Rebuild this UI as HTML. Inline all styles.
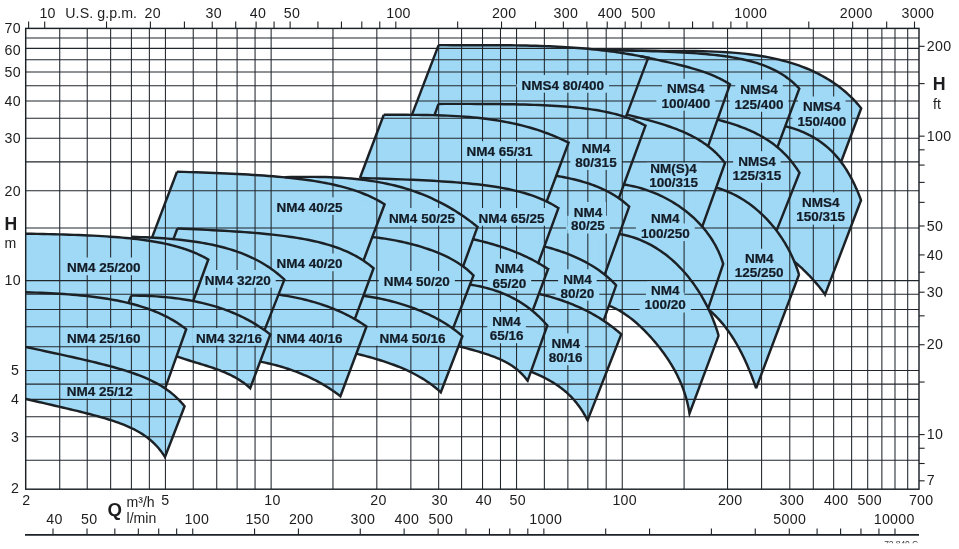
<!DOCTYPE html><html><head><meta charset="utf-8"><title>NM4 coverage chart</title>
<style>html,body{margin:0;padding:0;background:#fff}svg{display:block;will-change:transform}text{font-family:"Liberation Sans",sans-serif}</style></head><body>
<svg width="959" height="549" viewBox="0 0 959 549">
<rect width="959" height="549" fill="#fff"/>
<g fill="#9fd9f6" stroke="#9fd9f6" stroke-width="0.6" stroke-linejoin="round">
<path d="M25.80,233.70 L31.57,233.80 L37.24,233.90 L42.80,234.01 L48.27,234.13 L53.64,234.25 L58.90,234.39 L64.07,234.53 L69.14,234.69 L74.11,234.85 L78.98,235.03 L83.75,235.22 L88.43,235.43 L93.01,235.65 L97.49,235.88 L101.87,236.13 L106.16,236.39 L110.35,236.67 L114.45,236.97 L118.45,237.28 L122.35,237.62 L126.17,237.97 L129.88,238.33 L133.51,238.72 L137.04,239.13 L140.47,239.55 L143.82,240.00 L147.07,240.46 L150.23,240.94 L153.30,241.44 L156.28,241.95 L159.17,242.48 L161.97,243.03 L164.68,243.59 L167.30,244.17 L169.84,244.76 L172.28,245.36 L174.64,245.97 L176.91,246.59 L179.09,247.22 L181.19,247.85 L183.21,248.49 L185.14,249.12 L186.98,249.76 L188.74,250.39 L190.42,251.02 L192.02,251.64 L193.54,252.25 L194.97,252.85 L196.33,253.43 L197.61,254.00 L198.81,254.55 L199.93,255.08 L200.97,255.58 L201.94,256.06 L202.84,256.51 L203.66,256.94 L204.41,257.33 L205.09,257.69 L205.70,258.02 L206.23,258.32 L206.71,258.59 L207.11,258.82 L207.45,259.01 L207.73,259.17 L207.95,259.30 L208.12,259.39 L208.22,259.46 L208.28,259.49 L208.30,259.50 L192.65,302.53 L186.00,320.00 L26.00,320.00Z"/>
<path d="M25.80,292.30 L30.87,292.45 L35.85,292.62 L40.74,292.80 L45.55,293.01 L50.26,293.23 L54.89,293.48 L59.44,293.75 L63.89,294.04 L68.26,294.35 L72.54,294.69 L76.73,295.04 L80.84,295.43 L84.87,295.83 L88.81,296.26 L92.66,296.72 L96.43,297.19 L100.11,297.70 L103.71,298.22 L107.23,298.78 L110.66,299.35 L114.01,299.95 L117.28,300.57 L120.46,301.22 L123.57,301.88 L126.59,302.57 L129.53,303.28 L132.39,304.01 L135.17,304.76 L137.86,305.53 L140.48,306.31 L143.02,307.11 L145.48,307.92 L147.86,308.74 L150.17,309.57 L152.39,310.41 L154.54,311.26 L156.62,312.11 L158.61,312.97 L160.53,313.82 L162.38,314.68 L164.15,315.52 L165.84,316.37 L167.46,317.20 L169.01,318.02 L170.49,318.83 L171.89,319.62 L173.23,320.40 L174.49,321.15 L175.68,321.88 L176.80,322.58 L177.86,323.26 L178.84,323.91 L179.76,324.52 L180.61,325.11 L181.40,325.65 L182.12,326.16 L182.78,326.63 L183.38,327.07 L183.91,327.46 L184.38,327.81 L184.80,328.13 L185.16,328.40 L185.46,328.63 L185.70,328.81 L185.90,328.96 L186.04,329.07 L186.13,329.15 L186.19,329.19 L186.20,329.20 L164.58,389.93 L26.00,388.00Z"/>
<path d="M25.80,347.00 L30.82,348.07 L35.75,349.12 L40.59,350.16 L45.35,351.18 L50.02,352.19 L54.60,353.18 L59.10,354.16 L63.51,355.13 L67.83,356.09 L72.07,357.03 L76.23,357.97 L80.29,358.90 L84.28,359.82 L88.18,360.74 L91.99,361.64 L95.72,362.55 L99.37,363.45 L102.93,364.35 L106.42,365.25 L109.82,366.15 L113.13,367.05 L116.37,367.95 L119.52,368.86 L122.59,369.78 L125.58,370.70 L128.49,371.63 L131.32,372.57 L134.07,373.52 L136.75,374.48 L139.34,375.45 L141.85,376.43 L144.29,377.43 L146.65,378.44 L148.93,379.46 L151.13,380.49 L153.26,381.54 L155.31,382.59 L157.29,383.66 L159.19,384.73 L161.01,385.81 L162.77,386.89 L164.45,387.98 L166.05,389.06 L167.58,390.14 L169.05,391.22 L170.44,392.29 L171.76,393.34 L173.01,394.38 L174.19,395.39 L175.30,396.39 L176.34,397.35 L177.32,398.28 L178.23,399.18 L179.07,400.03 L179.85,400.84 L180.56,401.61 L181.21,402.32 L181.80,402.98 L182.33,403.58 L182.80,404.13 L183.21,404.61 L183.57,405.03 L183.86,405.39 L184.11,405.69 L184.30,405.93 L184.44,406.10 L184.53,406.22 L184.59,406.28 L184.60,406.30 L165.00,457.00 L164.99,456.98 L164.94,456.91 L164.86,456.78 L164.74,456.59 L164.57,456.33 L164.35,456.00 L164.09,455.60 L163.78,455.14 L163.42,454.61 L163.01,454.02 L162.55,453.36 L162.03,452.64 L161.46,451.87 L160.83,451.05 L160.15,450.17 L159.41,449.26 L158.62,448.30 L157.76,447.31 L156.84,446.29 L155.87,445.24 L154.84,444.18 L153.74,443.10 L152.58,442.01 L151.37,440.91 L150.08,439.80 L148.74,438.70 L147.33,437.60 L145.86,436.51 L144.32,435.43 L142.72,434.35 L141.06,433.29 L139.33,432.25 L137.53,431.22 L135.66,430.21 L133.73,429.21 L131.73,428.23 L129.66,427.27 L127.53,426.32 L125.33,425.39 L123.05,424.48 L120.71,423.58 L118.30,422.69 L115.82,421.82 L113.27,420.96 L110.65,420.11 L107.95,419.26 L105.19,418.42 L102.35,417.59 L99.45,416.76 L96.47,415.93 L93.41,415.11 L90.29,414.28 L87.09,413.45 L83.82,412.62 L80.48,411.78 L77.06,410.93 L73.57,410.08 L70.00,409.22 L66.36,408.36 L62.65,407.48 L58.86,406.59 L54.99,405.69 L51.05,404.77 L47.03,403.85 L42.94,402.91 L38.77,401.95 L34.52,400.98 L30.20,400.00 L25.80,399.00Z"/>
<path d="M131.50,236.80 L136.33,236.94 L141.08,237.10 L145.74,237.28 L150.32,237.49 L154.82,237.73 L159.23,238.00 L163.56,238.30 L167.81,238.62 L171.97,238.97 L176.05,239.35 L180.05,239.76 L183.97,240.20 L187.81,240.67 L191.56,241.17 L195.23,241.70 L198.83,242.26 L202.34,242.85 L205.77,243.47 L209.12,244.12 L212.39,244.79 L215.59,245.50 L218.70,246.23 L221.74,246.99 L224.70,247.78 L227.58,248.59 L230.38,249.42 L233.10,250.28 L235.75,251.15 L238.32,252.05 L240.82,252.97 L243.24,253.91 L245.59,254.85 L247.86,255.82 L250.05,256.79 L252.17,257.77 L254.22,258.77 L256.20,259.76 L258.10,260.76 L259.93,261.75 L261.69,262.75 L263.38,263.74 L264.99,264.72 L266.54,265.69 L268.02,266.64 L269.42,267.58 L270.76,268.50 L272.03,269.40 L273.24,270.28 L274.37,271.12 L275.44,271.94 L276.45,272.72 L277.39,273.47 L278.26,274.19 L279.07,274.86 L279.82,275.49 L280.51,276.08 L281.14,276.63 L281.71,277.13 L282.22,277.59 L282.67,278.00 L283.06,278.36 L283.40,278.67 L283.69,278.93 L283.93,279.15 L284.11,279.33 L284.25,279.45 L284.34,279.54 L284.39,279.59 L284.40,279.60 L263.93,331.65 L131.50,331.00Z"/>
<path d="M131.25,295.60 L135.64,295.62 L139.96,295.69 L144.20,295.80 L148.37,295.96 L152.46,296.15 L156.47,296.39 L160.41,296.67 L164.27,296.99 L168.06,297.35 L171.77,297.75 L175.40,298.19 L178.97,298.66 L182.46,299.17 L185.87,299.71 L189.21,300.28 L192.48,300.88 L195.67,301.52 L198.79,302.18 L201.84,302.88 L204.82,303.59 L207.72,304.33 L210.55,305.10 L213.31,305.89 L216.00,306.69 L218.62,307.52 L221.17,308.36 L223.65,309.21 L226.06,310.08 L228.40,310.96 L230.67,311.85 L232.87,312.75 L235.00,313.65 L237.07,314.55 L239.06,315.46 L240.99,316.37 L242.86,317.27 L244.65,318.17 L246.38,319.06 L248.05,319.94 L249.65,320.81 L251.18,321.67 L252.65,322.52 L254.06,323.34 L255.40,324.15 L256.68,324.94 L257.90,325.71 L259.05,326.45 L260.15,327.17 L261.18,327.86 L262.15,328.52 L263.07,329.15 L263.92,329.74 L264.72,330.31 L265.46,330.84 L266.14,331.34 L266.77,331.80 L267.34,332.22 L267.85,332.61 L268.32,332.96 L268.73,333.28 L269.09,333.55 L269.39,333.79 L269.65,333.99 L269.87,334.16 L270.04,334.29 L270.16,334.39 L270.24,334.45 L270.29,334.49 L270.30,334.50 L250.20,388.20 L250.19,388.19 L250.17,388.17 L250.13,388.13 L250.06,388.07 L249.97,387.99 L249.86,387.89 L249.72,387.76 L249.56,387.61 L249.37,387.44 L249.15,387.25 L248.90,387.03 L248.63,386.79 L248.33,386.53 L248.00,386.25 L247.64,385.95 L247.24,385.62 L246.82,385.28 L246.37,384.91 L245.89,384.53 L245.37,384.13 L244.82,383.71 L244.24,383.28 L243.63,382.83 L242.99,382.36 L242.31,381.89 L241.60,381.40 L240.85,380.90 L240.07,380.39 L239.26,379.87 L238.41,379.35 L237.53,378.81 L236.62,378.27 L235.67,377.73 L234.68,377.18 L233.66,376.62 L232.60,376.06 L231.51,375.51 L230.38,374.94 L229.21,374.38 L228.01,373.82 L226.77,373.26 L225.49,372.70 L224.18,372.14 L222.83,371.58 L221.44,371.02 L220.02,370.46 L218.56,369.90 L217.06,369.35 L215.52,368.79 L213.94,368.24 L212.33,367.68 L210.67,367.13 L208.98,366.58 L207.25,366.02 L205.48,365.46 L203.67,364.90 L201.83,364.33 L199.94,363.75 L198.01,363.17 L196.05,362.57 L194.04,361.97 L192.00,361.35 L189.91,360.71 L187.79,360.04 L185.62,359.36 L183.42,358.65 L181.17,357.90 L178.88,357.11 L176.55,356.30Z"/>
<path d="M177.00,171.70 L183.56,171.90 L190.01,172.10 L196.34,172.31 L202.56,172.52 L208.66,172.75 L214.65,172.98 L220.53,173.22 L226.30,173.47 L231.95,173.73 L237.49,174.01 L242.92,174.29 L248.24,174.59 L253.45,174.91 L258.55,175.24 L263.53,175.58 L268.41,175.94 L273.18,176.32 L277.84,176.71 L282.39,177.13 L286.83,177.56 L291.17,178.01 L295.40,178.48 L299.52,178.97 L303.54,179.48 L307.45,180.02 L311.25,180.57 L314.95,181.14 L318.55,181.74 L322.04,182.35 L325.43,182.99 L328.72,183.64 L331.90,184.31 L334.98,184.99 L337.97,185.70 L340.85,186.41 L343.63,187.14 L346.31,187.88 L348.89,188.64 L351.38,189.40 L353.77,190.16 L356.06,190.93 L358.25,191.70 L360.35,192.47 L362.36,193.24 L364.27,194.00 L366.08,194.75 L367.81,195.49 L369.44,196.21 L370.98,196.92 L372.44,197.61 L373.80,198.27 L375.08,198.91 L376.27,199.53 L377.37,200.11 L378.39,200.66 L379.32,201.18 L380.17,201.66 L380.95,202.10 L381.64,202.50 L382.25,202.86 L382.79,203.18 L383.25,203.46 L383.64,203.70 L383.96,203.90 L384.21,204.05 L384.39,204.17 L384.51,204.25 L384.58,204.29 L384.60,204.30 L362.90,262.13 L152.30,259.50 L152.00,237.58Z"/>
<path d="M177.40,228.50 L183.60,228.76 L189.69,229.03 L195.68,229.31 L201.56,229.59 L207.33,229.87 L212.99,230.16 L218.54,230.47 L223.99,230.78 L229.33,231.10 L234.57,231.43 L239.70,231.78 L244.73,232.13 L249.65,232.51 L254.47,232.89 L259.18,233.30 L263.79,233.72 L268.30,234.16 L272.70,234.62 L277.00,235.10 L281.20,235.61 L285.30,236.13 L289.30,236.68 L293.19,237.25 L296.99,237.84 L300.68,238.46 L304.28,239.11 L307.78,239.78 L311.18,240.47 L314.48,241.19 L317.68,241.93 L320.79,242.70 L323.79,243.49 L326.71,244.31 L329.53,245.14 L332.25,246.00 L334.88,246.87 L337.41,247.77 L339.85,248.67 L342.20,249.59 L344.46,250.52 L346.62,251.46 L348.70,252.40 L350.68,253.35 L352.58,254.29 L354.38,255.23 L356.10,256.16 L357.73,257.09 L359.27,257.99 L360.73,258.88 L362.11,259.74 L363.39,260.58 L364.60,261.39 L365.72,262.17 L366.77,262.91 L367.73,263.62 L368.61,264.27 L369.42,264.89 L370.15,265.46 L370.80,265.98 L371.38,266.44 L371.89,266.86 L372.32,267.22 L372.69,267.53 L372.99,267.78 L373.23,267.98 L373.40,268.13 L373.52,268.23 L373.58,268.28 L373.60,268.30 L354.22,320.60 L173.80,317.50 L173.42,239.10Z"/>
<path d="M278.50,294.61 L281.28,295.02 L284.01,295.44 L286.69,295.89 L289.33,296.35 L291.92,296.83 L294.46,297.33 L296.95,297.84 L299.39,298.37 L301.79,298.91 L304.14,299.46 L306.44,300.03 L308.70,300.62 L310.90,301.21 L313.06,301.81 L315.18,302.43 L317.25,303.05 L319.27,303.68 L321.24,304.32 L323.17,304.97 L325.06,305.62 L326.89,306.27 L328.69,306.93 L330.43,307.59 L332.14,308.26 L333.79,308.92 L335.41,309.59 L336.98,310.25 L338.50,310.91 L339.98,311.57 L341.42,312.22 L342.81,312.87 L344.16,313.51 L345.47,314.15 L346.73,314.78 L347.95,315.40 L349.13,316.01 L350.27,316.61 L351.36,317.19 L352.42,317.77 L353.43,318.33 L354.40,318.88 L355.33,319.42 L356.22,319.93 L357.07,320.43 L357.88,320.92 L358.65,321.39 L359.38,321.84 L360.07,322.27 L360.73,322.68 L361.34,323.07 L361.92,323.44 L362.46,323.79 L362.97,324.12 L363.43,324.42 L363.87,324.71 L364.26,324.97 L364.62,325.22 L364.95,325.44 L365.24,325.64 L365.50,325.81 L365.73,325.97 L365.93,326.10 L366.09,326.22 L366.23,326.31 L366.33,326.38 L366.41,326.44 L366.46,326.47 L366.49,326.49 L366.50,326.50 L340.40,396.20 L340.39,396.19 L340.37,396.17 L340.32,396.14 L340.25,396.08 L340.15,396.01 L340.03,395.91 L339.88,395.80 L339.70,395.66 L339.49,395.50 L339.25,395.32 L338.99,395.11 L338.69,394.89 L338.36,394.64 L338.00,394.37 L337.61,394.08 L337.18,393.76 L336.72,393.42 L336.23,393.06 L335.70,392.68 L335.14,392.28 L334.54,391.86 L333.91,391.41 L333.24,390.95 L332.54,390.47 L331.80,389.97 L331.03,389.45 L330.22,388.91 L329.37,388.36 L328.48,387.79 L327.56,387.20 L326.60,386.60 L325.60,385.99 L324.56,385.36 L323.49,384.73 L322.37,384.08 L321.22,383.42 L320.03,382.75 L318.80,382.07 L317.53,381.38 L316.22,380.69 L314.87,379.99 L313.48,379.29 L312.05,378.58 L310.58,377.87 L309.07,377.16 L307.51,376.44 L305.92,375.73 L304.28,375.01 L302.61,374.30 L300.89,373.59 L299.13,372.88 L297.33,372.18 L295.49,371.48 L293.60,370.79 L291.67,370.10 L289.70,369.42 L287.69,368.75 L285.64,368.09 L283.54,367.44 L281.39,366.79 L279.21,366.16 L276.98,365.55 L274.71,364.94 L272.39,364.35 L270.03,363.77 L267.63,363.21 L265.18,362.66 L262.69,362.12 L260.15,361.61 L258.00,360.00 L258.00,296.00Z"/>
<path d="M285.00,177.20 L291.08,177.06 L297.06,176.95 L302.93,176.88 L308.70,176.85 L314.36,176.88 L319.92,176.95 L325.37,177.07 L330.71,177.25 L335.95,177.48 L341.09,177.77 L346.13,178.11 L351.06,178.52 L355.89,178.97 L360.61,179.49 L365.24,180.06 L369.76,180.68 L374.18,181.36 L378.50,182.10 L382.72,182.88 L386.84,183.72 L390.86,184.61 L394.79,185.54 L398.61,186.52 L402.33,187.55 L405.96,188.61 L409.49,189.72 L412.92,190.86 L416.25,192.03 L419.49,193.24 L422.63,194.46 L425.68,195.71 L428.63,196.97 L431.49,198.24 L434.26,199.52 L436.93,200.81 L439.51,202.09 L441.99,203.38 L444.39,204.65 L446.69,205.92 L448.91,207.17 L451.03,208.41 L453.07,209.62 L455.01,210.81 L456.87,211.98 L458.64,213.12 L460.33,214.22 L461.93,215.29 L463.44,216.32 L464.88,217.32 L466.22,218.27 L467.49,219.18 L468.67,220.04 L469.77,220.86 L470.80,221.63 L471.74,222.34 L472.61,223.01 L473.40,223.62 L474.11,224.18 L474.75,224.69 L475.32,225.14 L475.82,225.54 L476.25,225.88 L476.61,226.17 L476.90,226.41 L477.13,226.60 L477.31,226.74 L477.42,226.84 L477.48,226.89 L477.50,226.90 L462.54,267.88 L300.00,266.00 L300.00,200.00 L285.00,180.00Z"/>
<path d="M372.26,237.20 L375.46,237.38 L378.60,237.78 L381.69,238.20 L384.72,238.65 L387.70,239.11 L390.62,239.60 L393.49,240.11 L396.30,240.64 L399.05,241.19 L401.76,241.76 L404.41,242.35 L407.00,242.95 L409.54,243.57 L412.02,244.20 L414.46,244.85 L416.84,245.52 L419.16,246.19 L421.43,246.88 L423.65,247.58 L425.82,248.29 L427.93,249.01 L430.00,249.73 L432.01,250.47 L433.97,251.21 L435.87,251.95 L437.73,252.70 L439.53,253.45 L441.29,254.20 L442.99,254.95 L444.64,255.70 L446.25,256.46 L447.80,257.22 L449.30,257.97 L450.76,258.73 L452.16,259.48 L453.52,260.24 L454.83,260.99 L456.09,261.74 L457.30,262.48 L458.46,263.21 L459.58,263.94 L460.65,264.66 L461.67,265.37 L462.65,266.06 L463.58,266.75 L464.47,267.42 L465.31,268.07 L466.11,268.70 L466.86,269.31 L467.57,269.91 L468.23,270.48 L468.86,271.02 L469.44,271.54 L469.97,272.03 L470.47,272.49 L470.93,272.92 L471.34,273.32 L471.72,273.69 L472.05,274.02 L472.35,274.32 L472.62,274.58 L472.84,274.81 L473.03,275.01 L473.19,275.17 L473.31,275.30 L473.40,275.39 L473.46,275.45 L473.49,275.49 L473.50,275.50 L452.37,330.07 L355.00,326.25 L355.00,240.00Z"/>
<path d="M363.41,295.80 L366.54,296.19 L369.61,296.68 L372.63,297.19 L375.60,297.74 L378.51,298.30 L381.37,298.90 L384.17,299.51 L386.92,300.15 L389.61,300.80 L392.26,301.48 L394.84,302.17 L397.38,302.88 L399.86,303.60 L402.29,304.34 L404.67,305.09 L407.00,305.85 L409.27,306.63 L411.49,307.41 L413.66,308.21 L415.78,309.01 L417.85,309.81 L419.87,310.63 L421.83,311.44 L423.75,312.26 L425.61,313.08 L427.43,313.90 L429.19,314.73 L430.90,315.55 L432.57,316.36 L434.19,317.18 L435.75,317.99 L437.27,318.80 L438.74,319.60 L440.16,320.40 L441.54,321.19 L442.86,321.96 L444.14,322.73 L445.37,323.49 L446.56,324.24 L447.70,324.98 L448.79,325.69 L449.84,326.40 L450.84,327.09 L451.79,327.76 L452.70,328.41 L453.57,329.04 L454.39,329.65 L455.17,330.23 L455.91,330.80 L456.60,331.34 L457.25,331.85 L457.86,332.34 L458.43,332.80 L458.95,333.23 L459.44,333.63 L459.88,334.01 L460.29,334.35 L460.66,334.67 L460.99,334.95 L461.28,335.21 L461.54,335.43 L461.76,335.62 L461.94,335.79 L462.09,335.92 L462.21,336.03 L462.30,336.11 L462.36,336.16 L462.39,336.19 L462.40,336.20 L440.80,392.30 L440.79,392.29 L440.77,392.27 L440.71,392.22 L440.64,392.15 L440.54,392.06 L440.41,391.94 L440.25,391.80 L440.06,391.63 L439.84,391.43 L439.59,391.21 L439.31,390.96 L439.00,390.68 L438.65,390.38 L438.27,390.05 L437.86,389.69 L437.41,389.31 L436.93,388.90 L436.41,388.47 L435.85,388.01 L435.26,387.53 L434.63,387.03 L433.97,386.50 L433.27,385.96 L432.53,385.39 L431.75,384.81 L430.93,384.21 L430.08,383.59 L429.19,382.95 L428.25,382.30 L427.28,381.64 L426.27,380.96 L425.22,380.28 L424.13,379.58 L423.00,378.87 L421.82,378.15 L420.61,377.43 L419.36,376.70 L418.06,375.96 L416.72,375.22 L415.35,374.47 L413.92,373.72 L412.46,372.97 L410.96,372.22 L409.41,371.47 L407.82,370.72 L406.18,369.96 L404.50,369.21 L402.78,368.47 L401.02,367.72 L399.21,366.98 L397.36,366.24 L395.46,365.50 L393.52,364.77 L391.54,364.04 L389.51,363.31 L387.44,362.59 L385.32,361.88 L383.15,361.17 L380.94,360.46 L378.69,359.76 L376.39,359.07 L374.04,358.37 L371.65,357.69 L369.21,357.01 L366.73,356.33 L364.20,355.66 L361.62,354.99 L359.00,354.32 L356.33,353.66 L345.00,353.00 L345.00,300.00Z"/>
<path d="M383.80,114.80 L389.64,114.80 L395.38,114.80 L401.02,114.81 L406.55,114.82 L411.99,114.85 L417.32,114.89 L422.55,114.96 L427.68,115.04 L432.72,115.15 L437.65,115.29 L442.48,115.45 L447.22,115.64 L451.85,115.86 L456.39,116.12 L460.83,116.40 L465.17,116.71 L469.42,117.06 L473.56,117.44 L477.62,117.84 L481.57,118.28 L485.43,118.74 L489.19,119.24 L492.86,119.76 L496.44,120.30 L499.92,120.87 L503.31,121.47 L506.60,122.08 L509.80,122.71 L512.91,123.36 L515.93,124.03 L518.85,124.71 L521.69,125.40 L524.43,126.11 L527.09,126.82 L529.65,127.53 L532.13,128.25 L534.51,128.98 L536.81,129.70 L539.03,130.42 L541.15,131.13 L543.19,131.84 L545.15,132.54 L547.01,133.23 L548.80,133.90 L550.50,134.56 L552.12,135.20 L553.65,135.83 L555.11,136.44 L556.48,137.02 L557.77,137.58 L558.99,138.12 L560.12,138.62 L561.18,139.11 L562.16,139.56 L563.07,139.99 L563.90,140.38 L564.66,140.75 L565.35,141.08 L565.96,141.38 L566.51,141.65 L566.99,141.89 L567.40,142.09 L567.74,142.27 L568.03,142.41 L568.25,142.52 L568.41,142.61 L568.52,142.66 L568.58,142.69 L568.60,142.70 L546.07,202.98 L360.00,200.60 L359.93,178.00Z"/>
<path d="M360.00,178.00 L366.27,178.18 L372.43,178.37 L378.48,178.56 L384.43,178.76 L390.26,178.96 L395.99,179.17 L401.60,179.38 L407.11,179.60 L412.52,179.83 L417.81,180.07 L423.00,180.31 L428.08,180.57 L433.06,180.84 L437.93,181.12 L442.70,181.42 L447.36,181.72 L451.92,182.05 L456.37,182.39 L460.72,182.74 L464.97,183.11 L469.11,183.50 L473.15,183.91 L477.09,184.34 L480.93,184.79 L484.67,185.25 L488.30,185.74 L491.84,186.24 L495.28,186.77 L498.61,187.31 L501.85,187.88 L504.99,188.47 L508.04,189.07 L510.98,189.69 L513.83,190.33 L516.59,190.99 L519.24,191.66 L521.81,192.34 L524.28,193.04 L526.65,193.74 L528.93,194.46 L531.12,195.18 L533.22,195.90 L535.23,196.63 L537.14,197.36 L538.97,198.08 L540.70,198.80 L542.35,199.50 L543.91,200.20 L545.39,200.88 L546.78,201.55 L548.08,202.19 L549.30,202.81 L550.44,203.41 L551.49,203.98 L552.46,204.52 L553.36,205.02 L554.17,205.49 L554.91,205.93 L555.57,206.32 L556.15,206.68 L556.67,207.00 L557.11,207.27 L557.48,207.51 L557.78,207.70 L558.02,207.86 L558.20,207.97 L558.32,208.05 L558.38,208.09 L558.40,208.10 L537.72,264.53 L370.00,262.00 L370.00,195.00Z"/>
<path d="M473.00,239.23 L475.37,239.77 L477.70,240.31 L479.99,240.86 L482.23,241.41 L484.44,241.98 L486.60,242.55 L488.73,243.12 L490.81,243.70 L492.85,244.29 L494.85,244.88 L496.82,245.47 L498.74,246.07 L500.62,246.67 L502.46,247.27 L504.26,247.88 L506.02,248.49 L507.75,249.10 L509.43,249.71 L511.07,250.33 L512.68,250.94 L514.25,251.55 L515.77,252.16 L517.26,252.77 L518.71,253.38 L520.13,253.98 L521.50,254.58 L522.84,255.17 L524.14,255.76 L525.40,256.35 L526.62,256.93 L527.81,257.50 L528.96,258.06 L530.07,258.62 L531.15,259.17 L532.19,259.70 L533.20,260.23 L534.17,260.75 L535.10,261.25 L536.00,261.75 L536.86,262.23 L537.69,262.70 L538.48,263.15 L539.24,263.59 L539.96,264.02 L540.65,264.43 L541.31,264.82 L541.93,265.20 L542.52,265.56 L543.08,265.91 L543.61,266.23 L544.10,266.55 L544.56,266.84 L544.99,267.11 L545.39,267.37 L545.76,267.61 L546.09,267.83 L546.40,268.03 L546.68,268.22 L546.93,268.38 L547.15,268.53 L547.34,268.66 L547.51,268.77 L547.65,268.87 L547.77,268.94 L547.86,269.00 L547.92,269.05 L547.97,269.08 L547.99,269.10 L548.00,269.10 L531.96,312.47 L455.00,311.00 L455.00,262.00Z"/>
<path d="M469.97,284.60 L472.42,284.99 L474.82,285.40 L477.18,285.85 L479.49,286.32 L481.77,286.82 L484.00,287.34 L486.19,287.89 L488.34,288.47 L490.44,289.07 L492.51,289.69 L494.53,290.34 L496.51,291.01 L498.45,291.70 L500.35,292.40 L502.21,293.13 L504.02,293.87 L505.80,294.64 L507.53,295.41 L509.23,296.20 L510.88,297.01 L512.50,297.82 L514.07,298.65 L515.61,299.48 L517.11,300.33 L518.56,301.18 L519.98,302.03 L521.36,302.89 L522.70,303.75 L524.00,304.62 L525.26,305.48 L526.48,306.34 L527.67,307.20 L528.82,308.06 L529.93,308.90 L531.00,309.75 L532.04,310.58 L533.04,311.40 L534.00,312.21 L534.93,313.00 L535.81,313.78 L536.67,314.55 L537.49,315.30 L538.27,316.02 L539.01,316.73 L539.73,317.42 L540.40,318.08 L541.05,318.72 L541.65,319.34 L542.23,319.93 L542.77,320.49 L543.28,321.03 L543.75,321.53 L544.20,322.01 L544.61,322.46 L544.99,322.87 L545.33,323.26 L545.65,323.61 L545.94,323.94 L546.20,324.23 L546.42,324.49 L546.62,324.72 L546.80,324.92 L546.94,325.08 L547.06,325.22 L547.15,325.33 L547.22,325.41 L547.27,325.46 L547.29,325.49 L547.30,325.50 L527.60,380.80 L527.59,380.79 L527.57,380.76 L527.53,380.70 L527.47,380.62 L527.39,380.50 L527.28,380.36 L527.15,380.18 L527.00,379.98 L526.82,379.74 L526.61,379.47 L526.38,379.17 L526.13,378.84 L525.84,378.48 L525.53,378.09 L525.20,377.67 L524.83,377.23 L524.43,376.76 L524.01,376.27 L523.56,375.75 L523.07,375.22 L522.56,374.66 L522.02,374.09 L521.44,373.51 L520.84,372.91 L520.20,372.29 L519.54,371.67 L518.84,371.04 L518.11,370.40 L517.35,369.75 L516.55,369.10 L515.72,368.45 L514.87,367.80 L513.97,367.14 L513.05,366.49 L512.09,365.84 L511.10,365.19 L510.07,364.54 L509.01,363.90 L507.92,363.26 L506.79,362.63 L505.63,362.01 L504.44,361.39 L503.21,360.77 L501.94,360.17 L500.64,359.57 L499.31,358.97 L497.93,358.38 L496.53,357.80 L495.09,357.22 L493.61,356.65 L492.09,356.09 L490.54,355.53 L488.96,354.97 L487.34,354.41 L485.68,353.86 L483.98,353.32 L482.25,352.77 L480.48,352.23 L478.68,351.68 L476.83,351.14 L474.95,350.60 L473.04,350.05 L471.08,349.51 L469.09,348.96 L467.06,348.41 L464.99,347.86 L462.88,347.30 L460.74,346.74 L458.56,346.18 L450.00,346.00 L450.00,290.00Z"/>
<path d="M438.50,103.90 L445.04,103.89 L451.47,103.88 L457.78,103.88 L463.99,103.88 L470.07,103.89 L476.05,103.92 L481.91,103.95 L487.66,103.98 L493.29,104.03 L498.82,104.09 L504.23,104.16 L509.54,104.25 L514.73,104.34 L519.81,104.46 L524.78,104.58 L529.65,104.72 L534.40,104.88 L539.05,105.05 L543.59,105.25 L548.02,105.46 L552.34,105.69 L556.56,105.94 L560.67,106.21 L564.67,106.50 L568.57,106.81 L572.36,107.14 L576.05,107.50 L579.64,107.87 L583.12,108.27 L586.50,108.69 L589.78,109.13 L592.95,109.59 L596.03,110.07 L599.00,110.57 L601.87,111.09 L604.65,111.63 L607.32,112.18 L609.90,112.75 L612.37,113.33 L614.75,113.92 L617.04,114.52 L619.23,115.12 L621.32,115.74 L623.32,116.35 L625.22,116.96 L627.04,117.58 L628.76,118.18 L630.39,118.78 L631.92,119.37 L633.37,119.95 L634.73,120.51 L636.01,121.05 L637.19,121.57 L638.29,122.07 L639.31,122.54 L640.24,122.98 L641.09,123.40 L641.86,123.78 L642.55,124.13 L643.16,124.44 L643.69,124.72 L644.15,124.97 L644.54,125.18 L644.86,125.35 L645.11,125.48 L645.29,125.58 L645.41,125.65 L645.48,125.69 L645.50,125.70 L618.29,199.74 L435.00,198.75 L434.51,115.20Z"/>
<path d="M556.24,175.79 L558.54,176.19 L560.81,176.60 L563.03,177.02 L565.22,177.46 L567.36,177.90 L569.47,178.35 L571.54,178.82 L573.56,179.29 L575.55,179.78 L577.50,180.28 L579.40,180.78 L581.27,181.30 L583.10,181.82 L584.90,182.36 L586.65,182.90 L588.36,183.46 L590.04,184.02 L591.68,184.59 L593.28,185.17 L594.84,185.76 L596.36,186.35 L597.85,186.95 L599.30,187.55 L600.71,188.16 L602.08,188.78 L603.42,189.39 L604.72,190.01 L605.98,190.63 L607.21,191.26 L608.40,191.88 L609.56,192.50 L610.68,193.12 L611.76,193.74 L612.81,194.36 L613.82,194.97 L614.80,195.57 L615.74,196.17 L616.65,196.76 L617.52,197.34 L618.36,197.91 L619.17,198.47 L619.94,199.02 L620.68,199.55 L621.38,200.07 L622.05,200.58 L622.69,201.07 L623.30,201.54 L623.87,202.00 L624.41,202.44 L624.93,202.85 L625.40,203.25 L625.85,203.63 L626.27,203.98 L626.66,204.32 L627.02,204.63 L627.35,204.92 L627.64,205.18 L627.92,205.43 L628.16,205.64 L628.37,205.84 L628.56,206.01 L628.72,206.16 L628.86,206.29 L628.97,206.39 L629.06,206.47 L629.13,206.53 L629.17,206.57 L629.19,206.59 L629.20,206.60 L604.14,276.11 L540.00,273.75 L540.00,200.00Z"/>
<path d="M544.29,246.60 L546.56,247.10 L548.79,247.69 L550.98,248.30 L553.13,248.93 L555.24,249.56 L557.32,250.22 L559.35,250.88 L561.34,251.56 L563.30,252.25 L565.22,252.95 L567.09,253.66 L568.93,254.38 L570.73,255.11 L572.50,255.84 L574.22,256.59 L575.91,257.33 L577.56,258.09 L579.17,258.85 L580.75,259.61 L582.28,260.38 L583.78,261.15 L585.24,261.92 L586.67,262.69 L588.06,263.46 L589.41,264.23 L590.73,265.01 L592.01,265.77 L593.25,266.54 L594.46,267.30 L595.63,268.06 L596.77,268.81 L597.87,269.56 L598.94,270.30 L599.97,271.03 L600.97,271.75 L601.93,272.47 L602.86,273.17 L603.75,273.87 L604.61,274.55 L605.43,275.21 L606.23,275.87 L606.99,276.51 L607.71,277.13 L608.41,277.73 L609.07,278.32 L609.70,278.89 L610.29,279.44 L610.86,279.96 L611.39,280.47 L611.89,280.95 L612.36,281.41 L612.81,281.85 L613.22,282.26 L613.60,282.65 L613.95,283.01 L614.27,283.34 L614.57,283.65 L614.84,283.93 L615.08,284.19 L615.29,284.41 L615.47,284.61 L615.63,284.79 L615.77,284.93 L615.88,285.05 L615.96,285.15 L616.03,285.22 L616.07,285.27 L616.09,285.29 L616.10,285.30 L603.09,322.22 L530.00,318.75 L530.00,255.00Z"/>
<path d="M538.85,293.85 L541.45,294.47 L544.01,295.11 L546.53,295.77 L549.00,296.44 L551.42,297.13 L553.80,297.83 L556.14,298.55 L558.43,299.28 L560.67,300.02 L562.87,300.77 L565.03,301.54 L567.14,302.32 L569.21,303.10 L571.23,303.90 L573.21,304.70 L575.15,305.51 L577.05,306.32 L578.90,307.14 L580.70,307.97 L582.47,308.79 L584.19,309.62 L585.87,310.45 L587.51,311.28 L589.10,312.12 L590.66,312.94 L592.17,313.77 L593.64,314.59 L595.07,315.41 L596.45,316.22 L597.80,317.03 L599.10,317.83 L600.37,318.61 L601.59,319.39 L602.78,320.16 L603.92,320.91 L605.03,321.66 L606.09,322.39 L607.12,323.10 L608.10,323.80 L609.05,324.48 L609.96,325.14 L610.83,325.79 L611.67,326.41 L612.46,327.02 L613.22,327.60 L613.95,328.16 L614.63,328.71 L615.28,329.22 L615.89,329.72 L616.47,330.19 L617.01,330.63 L617.52,331.05 L617.99,331.45 L618.43,331.81 L618.83,332.16 L619.20,332.47 L619.54,332.76 L619.85,333.03 L620.12,333.27 L620.37,333.48 L620.58,333.66 L620.76,333.83 L620.92,333.96 L621.04,334.07 L621.14,334.16 L621.22,334.23 L621.27,334.27 L621.29,334.29 L621.30,334.30 L587.60,420.40 L587.59,420.39 L587.58,420.35 L587.54,420.29 L587.49,420.19 L587.42,420.05 L587.34,419.88 L587.23,419.67 L587.10,419.43 L586.96,419.14 L586.79,418.82 L586.60,418.46 L586.39,418.06 L586.16,417.63 L585.90,417.16 L585.62,416.65 L585.32,416.11 L585.00,415.53 L584.65,414.92 L584.28,414.28 L583.88,413.60 L583.46,412.90 L583.01,412.17 L582.54,411.42 L582.04,410.64 L581.52,409.84 L580.97,409.01 L580.40,408.17 L579.80,407.31 L579.18,406.43 L578.52,405.54 L577.84,404.64 L577.14,403.73 L576.41,402.80 L575.65,401.87 L574.86,400.94 L574.04,399.99 L573.20,399.05 L572.33,398.10 L571.43,397.15 L570.51,396.21 L569.55,395.26 L568.57,394.32 L567.56,393.38 L566.52,392.44 L565.45,391.51 L564.35,390.59 L563.23,389.67 L562.07,388.76 L560.89,387.86 L559.67,386.97 L558.43,386.08 L557.16,385.20 L555.86,384.34 L554.52,383.48 L553.16,382.63 L551.77,381.79 L550.34,380.95 L548.89,380.13 L547.41,379.32 L545.89,378.51 L544.35,377.71 L542.77,376.92 L541.17,376.14 L539.53,375.37 L537.86,374.60 L536.16,373.84 L534.43,373.09 L532.67,372.34 L530.88,371.59 L522.00,371.00 L522.00,300.00Z"/>
<path d="M438.60,45.10 L445.22,45.14 L451.73,45.16 L458.13,45.17 L464.41,45.18 L470.57,45.18 L476.62,45.18 L482.55,45.19 L488.37,45.20 L494.08,45.21 L499.68,45.24 L505.16,45.28 L510.53,45.33 L515.79,45.39 L520.93,45.47 L525.97,45.56 L530.89,45.67 L535.71,45.80 L540.41,45.94 L545.01,46.10 L549.49,46.28 L553.87,46.47 L558.14,46.68 L562.30,46.90 L566.36,47.14 L570.30,47.39 L574.15,47.66 L577.88,47.94 L581.51,48.23 L585.04,48.53 L588.46,48.84 L591.78,49.16 L594.99,49.49 L598.11,49.83 L601.12,50.17 L604.02,50.51 L606.83,50.86 L609.54,51.20 L612.15,51.55 L614.66,51.90 L617.07,52.25 L619.38,52.59 L621.60,52.93 L623.72,53.27 L625.74,53.59 L627.67,53.92 L629.51,54.23 L631.25,54.53 L632.90,54.83 L634.45,55.11 L635.92,55.39 L637.30,55.65 L638.59,55.89 L639.79,56.13 L640.90,56.35 L641.93,56.55 L642.87,56.74 L643.73,56.92 L644.51,57.07 L645.21,57.22 L645.83,57.34 L646.37,57.46 L646.83,57.55 L647.23,57.64 L647.55,57.70 L647.80,57.76 L647.99,57.80 L648.11,57.82 L648.18,57.84 L648.20,57.84 L625.27,118.66 L412.50,125.00 L411.91,114.85Z"/>
<path d="M640.00,56.17 L642.84,56.74 L645.64,57.31 L648.38,57.88 L651.08,58.45 L653.73,59.02 L656.32,59.59 L658.87,60.16 L661.37,60.72 L663.82,61.27 L666.23,61.81 L668.58,62.35 L670.88,62.88 L673.14,63.41 L675.35,63.93 L677.51,64.45 L679.63,64.97 L681.70,65.48 L683.72,66.00 L685.69,66.51 L687.62,67.03 L689.50,67.54 L691.33,68.06 L693.12,68.57 L694.86,69.09 L696.55,69.60 L698.20,70.12 L699.81,70.63 L701.36,71.15 L702.88,71.66 L704.35,72.17 L705.77,72.68 L707.15,73.19 L708.49,73.69 L709.78,74.19 L711.03,74.69 L712.24,75.18 L713.40,75.67 L714.52,76.15 L715.60,76.63 L716.63,77.09 L717.63,77.55 L718.58,78.00 L719.49,78.44 L720.36,78.87 L721.18,79.29 L721.97,79.69 L722.72,80.08 L723.43,80.46 L724.10,80.82 L724.73,81.17 L725.32,81.50 L725.87,81.81 L726.39,82.11 L726.87,82.39 L727.31,82.65 L727.71,82.89 L728.08,83.11 L728.42,83.31 L728.72,83.50 L728.98,83.66 L729.21,83.81 L729.41,83.93 L729.58,84.04 L729.72,84.12 L729.83,84.19 L729.91,84.24 L729.96,84.28 L729.99,84.29 L730.00,84.30 L707.57,147.69 L620.00,146.30 L620.00,60.00Z"/>
<path d="M626.80,114.60 L629.90,115.35 L632.95,116.10 L635.95,116.84 L638.89,117.59 L641.78,118.34 L644.61,119.08 L647.39,119.83 L650.12,120.59 L652.79,121.34 L655.41,122.10 L657.98,122.86 L660.50,123.63 L662.96,124.41 L665.37,125.19 L667.73,125.98 L670.04,126.78 L672.30,127.58 L674.50,128.39 L676.65,129.21 L678.75,130.04 L680.80,130.88 L682.81,131.73 L684.76,132.58 L686.65,133.45 L688.50,134.32 L690.30,135.20 L692.05,136.09 L693.76,136.99 L695.41,137.89 L697.01,138.80 L698.57,139.72 L700.07,140.64 L701.53,141.56 L702.94,142.49 L704.30,143.41 L705.62,144.34 L706.89,145.26 L708.11,146.18 L709.29,147.10 L710.41,148.01 L711.50,148.91 L712.54,149.79 L713.53,150.67 L714.48,151.53 L715.38,152.37 L716.24,153.19 L717.06,153.99 L717.83,154.77 L718.56,155.52 L719.25,156.25 L719.89,156.94 L720.50,157.61 L721.06,158.24 L721.58,158.83 L722.06,159.39 L722.50,159.91 L722.91,160.39 L723.27,160.83 L723.60,161.23 L723.89,161.59 L724.14,161.91 L724.36,162.18 L724.54,162.42 L724.69,162.61 L724.81,162.76 L724.90,162.87 L724.96,162.95 L724.99,162.99 L725.00,163.00 L701.72,228.17 L615.00,226.25 L615.00,125.00Z"/>
<path d="M623.89,184.50 L627.03,185.00 L630.11,185.58 L633.14,186.22 L636.12,186.92 L639.04,187.69 L641.90,188.51 L644.71,189.39 L647.47,190.31 L650.18,191.28 L652.83,192.30 L655.42,193.36 L657.97,194.46 L660.46,195.60 L662.90,196.77 L665.28,197.98 L667.62,199.22 L669.90,200.48 L672.13,201.78 L674.30,203.10 L676.43,204.45 L678.50,205.82 L680.53,207.22 L682.50,208.63 L684.42,210.06 L686.29,211.51 L688.11,212.98 L689.88,214.46 L691.60,215.95 L693.27,217.46 L694.89,218.98 L696.47,220.50 L697.99,222.04 L699.46,223.58 L700.89,225.12 L702.27,226.67 L703.60,228.22 L704.88,229.78 L706.12,231.33 L707.31,232.88 L708.45,234.42 L709.55,235.96 L710.60,237.49 L711.60,239.02 L712.56,240.53 L713.47,242.02 L714.34,243.50 L715.17,244.96 L715.95,246.40 L716.69,247.81 L717.38,249.19 L718.03,250.54 L718.64,251.85 L719.21,253.13 L719.74,254.36 L720.23,255.53 L720.68,256.66 L721.08,257.72 L721.45,258.71 L721.78,259.63 L722.08,260.48 L722.33,261.24 L722.55,261.91 L722.74,262.50 L722.89,262.98 L723.01,263.37 L723.10,263.66 L723.16,263.86 L723.19,263.97 L723.20,264.00 L707.65,309.91 L600.00,306.00 L600.00,200.00Z"/>
<path d="M619.29,234.10 L622.42,234.52 L625.51,235.20 L628.54,235.97 L631.51,236.82 L634.43,237.76 L637.30,238.77 L640.11,239.87 L642.87,241.03 L645.57,242.27 L648.22,243.58 L650.82,244.94 L653.37,246.37 L655.86,247.86 L658.30,249.41 L660.68,251.00 L663.02,252.65 L665.30,254.34 L667.53,256.08 L669.70,257.86 L671.83,259.68 L673.90,261.53 L675.93,263.42 L677.90,265.33 L679.82,267.28 L681.69,269.25 L683.51,271.24 L685.28,273.25 L687.00,275.29 L688.67,277.33 L690.29,279.39 L691.87,281.46 L693.39,283.53 L694.86,285.61 L696.29,287.69 L697.67,289.77 L699.00,291.85 L700.28,293.92 L701.52,295.97 L702.71,298.02 L703.85,300.05 L704.94,302.07 L705.99,304.06 L707.00,306.03 L707.96,307.96 L708.87,309.87 L709.74,311.74 L710.57,313.57 L711.35,315.36 L712.09,317.10 L712.78,318.80 L713.43,320.43 L714.04,322.00 L714.61,323.51 L715.14,324.95 L715.63,326.32 L716.08,327.61 L716.48,328.81 L716.85,329.92 L717.18,330.94 L717.48,331.87 L717.73,332.69 L717.95,333.41 L718.14,334.03 L718.29,334.54 L718.41,334.95 L718.50,335.25 L718.56,335.46 L718.59,335.57 L718.60,335.60 L689.50,413.50 L689.49,413.45 L689.47,413.28 L689.42,412.97 L689.35,412.51 L689.25,411.90 L689.13,411.16 L688.97,410.29 L688.80,409.30 L688.59,408.21 L688.35,407.02 L688.08,405.75 L687.78,404.41 L687.45,403.00 L687.09,401.53 L686.69,400.02 L686.26,398.46 L685.80,396.86 L685.31,395.23 L684.78,393.57 L684.21,391.88 L683.61,390.16 L682.98,388.43 L682.31,386.68 L681.60,384.90 L680.86,383.12 L680.08,381.32 L679.27,379.50 L678.41,377.68 L677.52,375.84 L676.60,374.00 L675.63,372.15 L674.63,370.29 L673.59,368.42 L672.51,366.55 L671.39,364.67 L670.23,362.79 L669.03,360.91 L667.80,359.02 L666.52,357.12 L665.20,355.23 L663.85,353.33 L662.45,351.42 L661.01,349.52 L659.54,347.61 L658.02,345.70 L656.46,343.79 L654.86,341.88 L653.21,339.97 L651.53,338.05 L649.81,336.13 L648.04,334.22 L646.23,332.31 L644.38,330.41 L642.48,328.53 L640.54,326.67 L638.57,324.83 L636.54,323.03 L634.48,321.26 L632.37,319.53 L630.22,317.85 L628.02,316.22 L625.78,314.64 L623.50,313.13 L621.17,311.67 L618.80,310.29 L616.39,308.97 L613.93,307.74 L611.42,306.58 L608.88,305.80 L600.00,300.00 L600.00,240.00Z"/>
<path d="M600.00,49.90 L606.30,50.02 L612.49,50.14 L618.57,50.27 L624.54,50.40 L630.40,50.54 L636.15,50.69 L641.79,50.84 L647.33,51.00 L652.75,51.17 L658.07,51.35 L663.29,51.55 L668.39,51.76 L673.39,51.98 L678.29,52.22 L683.07,52.47 L687.76,52.75 L692.33,53.04 L696.81,53.36 L701.18,53.70 L705.44,54.06 L709.60,54.45 L713.66,54.87 L717.62,55.31 L721.48,55.78 L725.23,56.29 L728.88,56.83 L732.44,57.40 L735.89,58.00 L739.24,58.64 L742.50,59.31 L745.65,60.01 L748.71,60.75 L751.67,61.53 L754.53,62.33 L757.30,63.17 L759.97,64.05 L762.54,64.95 L765.02,65.88 L767.41,66.83 L769.70,67.81 L771.90,68.81 L774.00,69.83 L776.02,70.87 L777.94,71.91 L779.78,72.96 L781.52,74.01 L783.18,75.06 L784.75,76.10 L786.23,77.13 L787.62,78.14 L788.93,79.14 L790.16,80.10 L791.30,81.03 L792.36,81.93 L793.34,82.78 L794.23,83.58 L795.05,84.34 L795.79,85.04 L796.46,85.68 L797.04,86.26 L797.56,86.78 L798.00,87.24 L798.38,87.62 L798.68,87.94 L798.92,88.20 L799.10,88.38 L799.22,88.51 L799.28,88.58 L799.30,88.60 L776.87,148.75 L700.00,140.00 L700.00,60.00Z"/>
<path d="M717.49,119.64 L720.09,120.32 L722.63,121.01 L725.13,121.71 L727.59,122.43 L730.00,123.16 L732.37,123.91 L734.69,124.67 L736.97,125.44 L739.20,126.24 L741.39,127.04 L743.53,127.87 L745.64,128.70 L747.69,129.56 L749.71,130.43 L751.68,131.31 L753.60,132.21 L755.49,133.13 L757.33,134.06 L759.12,135.01 L760.88,135.97 L762.59,136.94 L764.26,137.93 L765.89,138.93 L767.48,139.94 L769.02,140.96 L770.53,141.99 L771.99,143.03 L773.41,144.08 L774.79,145.13 L776.13,146.19 L777.42,147.25 L778.68,148.31 L779.90,149.38 L781.08,150.44 L782.22,151.50 L783.32,152.55 L784.37,153.60 L785.39,154.64 L786.38,155.67 L787.32,156.69 L788.22,157.69 L789.09,158.67 L789.92,159.64 L790.71,160.58 L791.47,161.50 L792.19,162.40 L792.87,163.27 L793.51,164.11 L794.12,164.92 L794.70,165.70 L795.23,166.44 L795.74,167.15 L796.21,167.82 L796.64,168.44 L797.05,169.03 L797.42,169.58 L797.75,170.09 L798.06,170.55 L798.33,170.97 L798.57,171.34 L798.78,171.67 L798.97,171.95 L799.12,172.20 L799.25,172.39 L799.34,172.55 L799.42,172.67 L799.47,172.75 L799.49,172.79 L799.50,172.80 L775.95,232.14 L695.00,230.00 L695.00,125.00Z"/>
<path d="M716.04,188.10 L718.66,188.24 L721.23,189.11 L723.77,190.03 L726.25,191.00 L728.69,192.03 L731.08,193.12 L733.43,194.25 L735.74,195.43 L738.00,196.65 L740.21,197.92 L742.38,199.23 L744.51,200.57 L746.59,201.95 L748.62,203.37 L750.62,204.81 L752.57,206.29 L754.47,207.80 L756.33,209.33 L758.15,210.89 L759.93,212.47 L761.66,214.07 L763.35,215.69 L765.00,217.32 L766.60,218.97 L768.17,220.64 L769.69,222.32 L771.17,224.00 L772.60,225.70 L774.00,227.40 L775.35,229.11 L776.67,230.82 L777.94,232.53 L779.17,234.24 L780.36,235.95 L781.51,237.65 L782.63,239.35 L783.70,241.04 L784.73,242.71 L785.72,244.38 L786.68,246.03 L787.59,247.66 L788.47,249.28 L789.31,250.87 L790.11,252.43 L790.87,253.97 L791.60,255.48 L792.29,256.96 L792.94,258.40 L793.56,259.80 L794.14,261.16 L794.68,262.47 L795.19,263.74 L795.67,264.95 L796.11,266.10 L796.52,267.20 L796.89,268.23 L797.23,269.19 L797.54,270.08 L797.82,270.89 L798.06,271.63 L798.28,272.29 L798.46,272.86 L798.62,273.35 L798.74,273.76 L798.84,274.08 L798.92,274.32 L798.97,274.49 L798.99,274.57 L799.00,274.60 L756.10,388.20 L756.10,388.19 L756.08,388.14 L756.05,388.06 L756.01,387.94 L755.95,387.78 L755.88,387.58 L755.80,387.32 L755.69,387.03 L755.57,386.68 L755.43,386.29 L755.28,385.84 L755.10,385.35 L754.91,384.81 L754.70,384.22 L754.47,383.58 L754.22,382.89 L753.95,382.15 L753.67,381.37 L753.36,380.53 L753.03,379.65 L752.68,378.72 L752.31,377.74 L751.93,376.72 L751.52,375.66 L751.09,374.55 L750.63,373.41 L750.16,372.22 L749.67,371.00 L749.15,369.73 L748.61,368.44 L748.05,367.11 L747.47,365.75 L746.86,364.36 L746.24,362.94 L745.59,361.50 L744.91,360.03 L744.22,358.54 L743.50,357.03 L742.76,355.51 L742.00,353.96 L741.21,352.41 L740.40,350.84 L739.56,349.26 L738.71,347.68 L737.83,346.09 L736.92,344.49 L735.99,342.90 L735.04,341.30 L734.06,339.70 L733.06,338.11 L732.03,336.51 L730.98,334.93 L729.91,333.35 L728.81,331.78 L727.68,330.22 L726.53,328.67 L725.36,327.13 L724.16,325.61 L722.94,324.10 L721.69,322.60 L720.41,321.13 L719.11,319.67 L717.79,318.22 L716.44,316.80 L715.06,315.40 L713.66,314.02 L712.23,312.66 L710.78,311.32 L709.30,310.00 L695.00,300.00 L695.00,195.00Z"/>
<path d="M600.00,49.20 L608.26,49.72 L616.37,50.11 L624.33,50.39 L632.16,50.58 L639.84,50.71 L647.38,50.78 L654.77,50.83 L662.03,50.85 L669.14,50.87 L676.11,50.89 L682.94,50.93 L689.63,51.00 L696.19,51.09 L702.60,51.22 L708.87,51.40 L715.01,51.62 L721.01,51.90 L726.87,52.24 L732.60,52.65 L738.19,53.11 L743.65,53.65 L748.97,54.26 L754.15,54.94 L759.21,55.69 L764.13,56.51 L768.91,57.41 L773.57,58.37 L778.09,59.40 L782.49,60.49 L786.75,61.64 L790.89,62.86 L794.89,64.13 L798.77,65.45 L802.52,66.83 L806.15,68.25 L809.65,69.72 L813.02,71.23 L816.27,72.77 L819.40,74.35 L822.40,75.95 L825.29,77.58 L828.05,79.22 L830.69,80.87 L833.21,82.53 L835.62,84.19 L837.90,85.85 L840.07,87.49 L842.13,89.11 L844.07,90.71 L845.90,92.28 L847.61,93.81 L849.22,95.29 L850.71,96.72 L852.10,98.09 L853.38,99.40 L854.56,100.63 L855.63,101.78 L856.60,102.85 L857.47,103.84 L858.24,104.72 L858.92,105.52 L859.50,106.21 L859.99,106.80 L860.39,107.29 L860.70,107.68 L860.94,107.97 L861.09,108.16 L861.18,108.27 L861.20,108.30 L840.48,163.45 L770.00,162.30 L770.00,80.00 L700.00,75.00 L640.00,60.00 L600.00,52.00Z"/>
<path d="M785.28,126.20 L787.68,126.82 L790.03,127.47 L792.34,128.16 L794.60,128.89 L796.83,129.66 L799.02,130.46 L801.16,131.30 L803.26,132.18 L805.32,133.09 L807.35,134.05 L809.33,135.03 L811.27,136.06 L813.17,137.12 L815.02,138.21 L816.84,139.34 L818.62,140.51 L820.36,141.71 L822.06,142.94 L823.72,144.20 L825.34,145.50 L826.92,146.82 L828.47,148.18 L829.97,149.56 L831.43,150.96 L832.86,152.39 L834.25,153.85 L835.60,155.32 L836.91,156.82 L838.18,158.33 L839.42,159.85 L840.62,161.39 L841.78,162.94 L842.90,164.49 L843.99,166.05 L845.04,167.61 L846.06,169.17 L847.03,170.73 L847.98,172.28 L848.88,173.82 L849.75,175.34 L850.59,176.85 L851.39,178.34 L852.16,179.80 L852.89,181.24 L853.58,182.64 L854.25,184.01 L854.88,185.35 L855.47,186.64 L856.03,187.89 L856.56,189.09 L857.06,190.24 L857.53,191.34 L857.96,192.37 L858.36,193.36 L858.73,194.28 L859.08,195.13 L859.39,195.92 L859.67,196.65 L859.92,197.30 L860.14,197.89 L860.34,198.41 L860.51,198.86 L860.65,199.24 L860.76,199.56 L860.86,199.81 L860.92,199.99 L860.97,200.11 L860.99,200.18 L861.00,200.20 L825.10,294.50 L825.10,294.50 L825.09,294.48 L825.07,294.46 L825.04,294.42 L825.00,294.37 L824.96,294.30 L824.90,294.22 L824.83,294.13 L824.75,294.02 L824.66,293.90 L824.56,293.76 L824.44,293.60 L824.31,293.43 L824.18,293.24 L824.02,293.04 L823.86,292.82 L823.68,292.58 L823.49,292.33 L823.29,292.06 L823.07,291.77 L822.84,291.47 L822.60,291.15 L822.34,290.82 L822.07,290.46 L821.79,290.10 L821.49,289.71 L821.18,289.31 L820.85,288.90 L820.51,288.47 L820.16,288.02 L819.79,287.56 L819.40,287.08 L819.00,286.59 L818.59,286.08 L818.16,285.56 L817.71,285.02 L817.26,284.47 L816.78,283.91 L816.29,283.34 L815.79,282.75 L815.27,282.14 L814.73,281.53 L814.18,280.90 L813.62,280.27 L813.03,279.62 L812.44,278.95 L811.82,278.28 L811.19,277.60 L810.55,276.91 L809.89,276.21 L809.21,275.50 L808.52,274.78 L807.81,274.05 L807.08,273.31 L806.34,272.56 L805.58,271.81 L804.80,271.05 L804.01,270.29 L803.20,269.51 L802.38,268.73 L801.54,267.95 L800.68,267.16 L799.80,266.36 L798.91,265.56 L798.00,264.76 L797.08,263.95 L796.14,263.13 L795.18,262.32 L794.20,261.50 L793.00,265.00 L785.00,255.00 L770.00,200.00 L770.00,135.00Z"/>
</g>
<g stroke="#20262c" stroke-width="1.05" fill="none">
<line x1="59.73" y1="28.4" x2="59.73" y2="489.2"/>
<line x1="87.23" y1="28.4" x2="87.23" y2="489.2"/>
<line x1="110.64" y1="28.4" x2="110.64" y2="489.2"/>
<line x1="131.40" y1="28.4" x2="131.40" y2="489.2"/>
<line x1="149.36" y1="28.4" x2="149.36" y2="489.2"/>
<line x1="165.43" y1="28.4" x2="165.43" y2="489.2"/>
<line x1="193.23" y1="28.4" x2="193.23" y2="489.2"/>
<line x1="216.74" y1="28.4" x2="216.74" y2="489.2"/>
<line x1="237.10" y1="28.4" x2="237.10" y2="489.2"/>
<line x1="255.06" y1="28.4" x2="255.06" y2="489.2"/>
<line x1="271.13" y1="28.4" x2="271.13" y2="489.2"/>
<line x1="332.96" y1="28.4" x2="332.96" y2="489.2"/>
<line x1="376.83" y1="28.4" x2="376.83" y2="489.2"/>
<line x1="410.86" y1="28.4" x2="410.86" y2="489.2"/>
<line x1="438.66" y1="28.4" x2="438.66" y2="489.2"/>
<line x1="461.57" y1="28.4" x2="461.57" y2="489.2"/>
<line x1="482.53" y1="28.4" x2="482.53" y2="489.2"/>
<line x1="500.49" y1="28.4" x2="500.49" y2="489.2"/>
<line x1="516.56" y1="28.4" x2="516.56" y2="489.2"/>
<line x1="544.36" y1="28.4" x2="544.36" y2="489.2"/>
<line x1="567.87" y1="28.4" x2="567.87" y2="489.2"/>
<line x1="587.83" y1="28.4" x2="587.83" y2="489.2"/>
<line x1="606.19" y1="28.4" x2="606.19" y2="489.2"/>
<line x1="622.26" y1="28.4" x2="622.26" y2="489.2"/>
<line x1="684.09" y1="28.4" x2="684.09" y2="489.2"/>
<line x1="727.56" y1="28.4" x2="727.56" y2="489.2"/>
<line x1="761.59" y1="28.4" x2="761.59" y2="489.2"/>
<line x1="789.79" y1="28.4" x2="789.79" y2="489.2"/>
<line x1="813.30" y1="28.4" x2="813.30" y2="489.2"/>
<line x1="833.66" y1="28.4" x2="833.66" y2="489.2"/>
<line x1="851.62" y1="28.4" x2="851.62" y2="489.2"/>
<line x1="867.69" y1="28.4" x2="867.69" y2="489.2"/>
<line x1="881.87" y1="28.4" x2="881.87" y2="489.2"/>
<line x1="894.99" y1="28.4" x2="894.99" y2="489.2"/>
<line x1="907.70" y1="28.4" x2="907.70" y2="489.2"/>
<line x1="25.7" y1="460.28" x2="919.0" y2="460.28"/>
<line x1="25.7" y1="436.65" x2="919.0" y2="436.65"/>
<line x1="25.7" y1="416.67" x2="919.0" y2="416.67"/>
<line x1="25.7" y1="399.36" x2="919.0" y2="399.36"/>
<line x1="25.7" y1="384.10" x2="919.0" y2="384.10"/>
<line x1="25.7" y1="370.44" x2="919.0" y2="370.44"/>
<line x1="25.7" y1="346.81" x2="919.0" y2="346.81"/>
<line x1="25.7" y1="326.83" x2="919.0" y2="326.83"/>
<line x1="25.7" y1="309.53" x2="919.0" y2="309.53"/>
<line x1="25.7" y1="294.26" x2="919.0" y2="294.26"/>
<line x1="25.7" y1="280.60" x2="919.0" y2="280.60"/>
<line x1="25.7" y1="228.05" x2="919.0" y2="228.05"/>
<line x1="25.7" y1="190.77" x2="919.0" y2="190.77"/>
<line x1="25.7" y1="161.85" x2="919.0" y2="161.85"/>
<line x1="25.7" y1="138.22" x2="919.0" y2="138.22"/>
<line x1="25.7" y1="118.24" x2="919.0" y2="118.24"/>
<line x1="25.7" y1="100.93" x2="919.0" y2="100.93"/>
<line x1="25.7" y1="85.66" x2="919.0" y2="85.66"/>
<line x1="25.7" y1="72.01" x2="919.0" y2="72.01"/>
<line x1="25.7" y1="59.66" x2="919.0" y2="59.66"/>
<line x1="25.7" y1="48.38" x2="919.0" y2="48.38"/>
<line x1="25.7" y1="38.00" x2="919.0" y2="38.00"/>
</g>
<g fill="#9fd9f6">
<rect x="63.18" y="257.50" width="81.15" height="17.70"/>
<rect x="63.18" y="328.00" width="81.15" height="17.70"/>
<rect x="62.93" y="385.00" width="73.64" height="13.47"/>
<rect x="200.88" y="270.00" width="73.64" height="17.70"/>
<rect x="199.68" y="279.10" width="76.04" height="3"/>
<rect x="192.18" y="328.00" width="73.64" height="17.70"/>
<rect x="272.68" y="197.25" width="73.64" height="17.70"/>
<rect x="272.68" y="253.50" width="73.64" height="17.70"/>
<rect x="272.68" y="328.00" width="73.64" height="17.70"/>
<rect x="385.08" y="208.00" width="73.64" height="17.70"/>
<rect x="379.98" y="271.00" width="73.64" height="17.70"/>
<rect x="378.78" y="279.10" width="76.04" height="3"/>
<rect x="375.68" y="328.00" width="73.64" height="17.70"/>
<rect x="462.78" y="141.25" width="73.64" height="17.70"/>
<rect x="474.68" y="208.00" width="73.64" height="17.70"/>
<rect x="491.25" y="258.80" width="36.10" height="17.70"/>
<rect x="488.61" y="273.10" width="41.38" height="17.70"/>
<rect x="487.41" y="279.10" width="43.78" height="3"/>
<rect x="488.55" y="311.75" width="36.10" height="17.70"/>
<rect x="487.35" y="325.33" width="38.50" height="3"/>
<rect x="485.91" y="327.73" width="41.38" height="15.47"/>
<rect x="569.95" y="202.00" width="36.10" height="17.70"/>
<rect x="567.31" y="215.80" width="41.38" height="17.70"/>
<rect x="566.11" y="226.55" width="43.78" height="3"/>
<rect x="559.35" y="269.25" width="36.10" height="17.70"/>
<rect x="558.15" y="279.10" width="38.50" height="3"/>
<rect x="556.71" y="283.00" width="41.38" height="17.70"/>
<rect x="555.51" y="292.76" width="43.78" height="3"/>
<rect x="547.65" y="333.30" width="36.10" height="17.70"/>
<rect x="546.45" y="345.31" width="38.50" height="3"/>
<rect x="545.01" y="347.50" width="41.38" height="17.70"/>
<rect x="647.25" y="208.90" width="36.10" height="17.70"/>
<rect x="637.10" y="223.40" width="56.40" height="17.70"/>
<rect x="635.90" y="226.55" width="58.80" height="3"/>
<rect x="647.15" y="281.50" width="36.10" height="16.50"/>
<rect x="645.95" y="292.76" width="38.50" height="3"/>
<rect x="640.75" y="295.16" width="48.89" height="17.34"/>
<rect x="639.55" y="308.03" width="51.29" height="3"/>
<rect x="741.15" y="248.75" width="36.10" height="17.70"/>
<rect x="731.00" y="262.70" width="56.40" height="17.00"/>
<rect x="798.15" y="192.30" width="45.11" height="17.70"/>
<rect x="792.50" y="206.90" width="56.40" height="17.70"/>
<rect x="734.35" y="151.20" width="45.11" height="17.70"/>
<rect x="733.15" y="160.35" width="47.51" height="3"/>
<rect x="728.70" y="165.00" width="56.40" height="17.70"/>
<rect x="736.45" y="79.60" width="45.11" height="17.70"/>
<rect x="735.25" y="84.16" width="47.51" height="3"/>
<rect x="730.80" y="94.10" width="56.40" height="17.70"/>
<rect x="729.60" y="99.43" width="58.80" height="3"/>
<rect x="799.25" y="96.50" width="45.11" height="17.70"/>
<rect x="798.05" y="99.43" width="47.51" height="3"/>
<rect x="793.60" y="111.00" width="56.40" height="17.70"/>
<rect x="792.40" y="116.74" width="58.80" height="3"/>
<rect x="663.25" y="78.80" width="45.11" height="17.70"/>
<rect x="662.05" y="84.16" width="47.51" height="3"/>
<rect x="657.60" y="93.00" width="56.40" height="17.70"/>
<rect x="656.40" y="99.43" width="58.80" height="3"/>
<rect x="646.55" y="162.75" width="54.10" height="13.05"/>
<rect x="645.40" y="172.90" width="56.40" height="16.97"/>
<rect x="577.95" y="139.12" width="36.10" height="16.58"/>
<rect x="571.55" y="152.25" width="48.89" height="17.70"/>
<rect x="570.35" y="160.35" width="51.29" height="3"/>
<rect x="517.68" y="75.00" width="90.15" height="17.70"/>
<rect x="516.48" y="84.16" width="92.55" height="3"/>
</g>
<rect x="25.7" y="28.4" width="893.30" height="460.80" fill="none" stroke="#1c2126" stroke-width="1.45"/>
<g fill="none" stroke="#1c2126" stroke-width="2.45" stroke-linejoin="miter" stroke-linecap="butt" clip-path="url(#plotclip)">
<path d="M25.80,233.70 L31.57,233.80 L37.24,233.90 L42.80,234.01 L48.27,234.13 L53.64,234.25 L58.90,234.39 L64.07,234.53 L69.14,234.69 L74.11,234.85 L78.98,235.03 L83.75,235.22 L88.43,235.43 L93.01,235.65 L97.49,235.88 L101.87,236.13 L106.16,236.39 L110.35,236.67 L114.45,236.97 L118.45,237.28 L122.35,237.62 L126.17,237.97 L129.88,238.33 L133.51,238.72 L137.04,239.13 L140.47,239.55 L143.82,240.00 L147.07,240.46 L150.23,240.94 L153.30,241.44 L156.28,241.95 L159.17,242.48 L161.97,243.03 L164.68,243.59 L167.30,244.17 L169.84,244.76 L172.28,245.36 L174.64,245.97 L176.91,246.59 L179.09,247.22 L181.19,247.85 L183.21,248.49 L185.14,249.12 L186.98,249.76 L188.74,250.39 L190.42,251.02 L192.02,251.64 L193.54,252.25 L194.97,252.85 L196.33,253.43 L197.61,254.00 L198.81,254.55 L199.93,255.08 L200.97,255.58 L201.94,256.06 L202.84,256.51 L203.66,256.94 L204.41,257.33 L205.09,257.69 L205.70,258.02 L206.23,258.32 L206.71,258.59 L207.11,258.82 L207.45,259.01 L207.73,259.17 L207.95,259.30 L208.12,259.39 L208.22,259.46 L208.28,259.49 L208.30,259.50 L193.20,301.02"/>
<path d="M25.80,292.30 L30.87,292.45 L35.85,292.62 L40.74,292.80 L45.55,293.01 L50.26,293.23 L54.89,293.48 L59.44,293.75 L63.89,294.04 L68.26,294.35 L72.54,294.69 L76.73,295.04 L80.84,295.43 L84.87,295.83 L88.81,296.26 L92.66,296.72 L96.43,297.19 L100.11,297.70 L103.71,298.22 L107.23,298.78 L110.66,299.35 L114.01,299.95 L117.28,300.57 L120.46,301.22 L123.57,301.88 L126.59,302.57 L129.53,303.28 L132.39,304.01 L135.17,304.76 L137.86,305.53 L140.48,306.31 L143.02,307.11 L145.48,307.92 L147.86,308.74 L150.17,309.57 L152.39,310.41 L154.54,311.26 L156.62,312.11 L158.61,312.97 L160.53,313.82 L162.38,314.68 L164.15,315.52 L165.84,316.37 L167.46,317.20 L169.01,318.02 L170.49,318.83 L171.89,319.62 L173.23,320.40 L174.49,321.15 L175.68,321.88 L176.80,322.58 L177.86,323.26 L178.84,323.91 L179.76,324.52 L180.61,325.11 L181.40,325.65 L182.12,326.16 L182.78,326.63 L183.38,327.07 L183.91,327.46 L184.38,327.81 L184.80,328.13 L185.16,328.40 L185.46,328.63 L185.70,328.81 L185.90,328.96 L186.04,329.07 L186.13,329.15 L186.19,329.19 L186.20,329.20 L165.12,388.43"/>
<path d="M25.80,347.00 L30.82,348.07 L35.75,349.12 L40.59,350.16 L45.35,351.18 L50.02,352.19 L54.60,353.18 L59.10,354.16 L63.51,355.13 L67.83,356.09 L72.07,357.03 L76.23,357.97 L80.29,358.90 L84.28,359.82 L88.18,360.74 L91.99,361.64 L95.72,362.55 L99.37,363.45 L102.93,364.35 L106.42,365.25 L109.82,366.15 L113.13,367.05 L116.37,367.95 L119.52,368.86 L122.59,369.78 L125.58,370.70 L128.49,371.63 L131.32,372.57 L134.07,373.52 L136.75,374.48 L139.34,375.45 L141.85,376.43 L144.29,377.43 L146.65,378.44 L148.93,379.46 L151.13,380.49 L153.26,381.54 L155.31,382.59 L157.29,383.66 L159.19,384.73 L161.01,385.81 L162.77,386.89 L164.45,387.98 L166.05,389.06 L167.58,390.14 L169.05,391.22 L170.44,392.29 L171.76,393.34 L173.01,394.38 L174.19,395.39 L175.30,396.39 L176.34,397.35 L177.32,398.28 L178.23,399.18 L179.07,400.03 L179.85,400.84 L180.56,401.61 L181.21,402.32 L181.80,402.98 L182.33,403.58 L182.80,404.13 L183.21,404.61 L183.57,405.03 L183.86,405.39 L184.11,405.69 L184.30,405.93 L184.44,406.10 L184.53,406.22 L184.59,406.28 L184.60,406.30 L165.00,457.00 L164.99,456.98 L164.94,456.91 L164.86,456.78 L164.74,456.59 L164.57,456.33 L164.35,456.00 L164.09,455.60 L163.78,455.14 L163.42,454.61 L163.01,454.02 L162.55,453.36 L162.03,452.64 L161.46,451.87 L160.83,451.05 L160.15,450.17 L159.41,449.26 L158.62,448.30 L157.76,447.31 L156.84,446.29 L155.87,445.24 L154.84,444.18 L153.74,443.10 L152.58,442.01 L151.37,440.91 L150.08,439.80 L148.74,438.70 L147.33,437.60 L145.86,436.51 L144.32,435.43 L142.72,434.35 L141.06,433.29 L139.33,432.25 L137.53,431.22 L135.66,430.21 L133.73,429.21 L131.73,428.23 L129.66,427.27 L127.53,426.32 L125.33,425.39 L123.05,424.48 L120.71,423.58 L118.30,422.69 L115.82,421.82 L113.27,420.96 L110.65,420.11 L107.95,419.26 L105.19,418.42 L102.35,417.59 L99.45,416.76 L96.47,415.93 L93.41,415.11 L90.29,414.28 L87.09,413.45 L83.82,412.62 L80.48,411.78 L77.06,410.93 L73.57,410.08 L70.00,409.22 L66.36,408.36 L62.65,407.48 L58.86,406.59 L54.99,405.69 L51.05,404.77 L47.03,403.85 L42.94,402.91 L38.77,401.95 L34.52,400.98 L30.20,400.00 L25.80,399.00"/>
<path d="M131.50,236.80 L136.33,236.94 L141.08,237.10 L145.74,237.28 L150.32,237.49 L154.82,237.73 L159.23,238.00 L163.56,238.30 L167.81,238.62 L171.97,238.97 L176.05,239.35 L180.05,239.76 L183.97,240.20 L187.81,240.67 L191.56,241.17 L195.23,241.70 L198.83,242.26 L202.34,242.85 L205.77,243.47 L209.12,244.12 L212.39,244.79 L215.59,245.50 L218.70,246.23 L221.74,246.99 L224.70,247.78 L227.58,248.59 L230.38,249.42 L233.10,250.28 L235.75,251.15 L238.32,252.05 L240.82,252.97 L243.24,253.91 L245.59,254.85 L247.86,255.82 L250.05,256.79 L252.17,257.77 L254.22,258.77 L256.20,259.76 L258.10,260.76 L259.93,261.75 L261.69,262.75 L263.38,263.74 L264.99,264.72 L266.54,265.69 L268.02,266.64 L269.42,267.58 L270.76,268.50 L272.03,269.40 L273.24,270.28 L274.37,271.12 L275.44,271.94 L276.45,272.72 L277.39,273.47 L278.26,274.19 L279.07,274.86 L279.82,275.49 L280.51,276.08 L281.14,276.63 L281.71,277.13 L282.22,277.59 L282.67,278.00 L283.06,278.36 L283.40,278.67 L283.69,278.93 L283.93,279.15 L284.11,279.33 L284.25,279.45 L284.34,279.54 L284.39,279.59 L284.40,279.60 L264.52,330.17"/>
<path d="M131.25,295.60 L135.64,295.62 L139.96,295.69 L144.20,295.80 L148.37,295.96 L152.46,296.15 L156.47,296.39 L160.41,296.67 L164.27,296.99 L168.06,297.35 L171.77,297.75 L175.40,298.19 L178.97,298.66 L182.46,299.17 L185.87,299.71 L189.21,300.28 L192.48,300.88 L195.67,301.52 L198.79,302.18 L201.84,302.88 L204.82,303.59 L207.72,304.33 L210.55,305.10 L213.31,305.89 L216.00,306.69 L218.62,307.52 L221.17,308.36 L223.65,309.21 L226.06,310.08 L228.40,310.96 L230.67,311.85 L232.87,312.75 L235.00,313.65 L237.07,314.55 L239.06,315.46 L240.99,316.37 L242.86,317.27 L244.65,318.17 L246.38,319.06 L248.05,319.94 L249.65,320.81 L251.18,321.67 L252.65,322.52 L254.06,323.34 L255.40,324.15 L256.68,324.94 L257.90,325.71 L259.05,326.45 L260.15,327.17 L261.18,327.86 L262.15,328.52 L263.07,329.15 L263.92,329.74 L264.72,330.31 L265.46,330.84 L266.14,331.34 L266.77,331.80 L267.34,332.22 L267.85,332.61 L268.32,332.96 L268.73,333.28 L269.09,333.55 L269.39,333.79 L269.65,333.99 L269.87,334.16 L270.04,334.29 L270.16,334.39 L270.24,334.45 L270.29,334.49 L270.30,334.50 L250.20,388.20 L250.19,388.19 L250.17,388.17 L250.13,388.13 L250.06,388.07 L249.97,387.99 L249.86,387.89 L249.72,387.76 L249.56,387.61 L249.37,387.44 L249.15,387.25 L248.90,387.03 L248.63,386.79 L248.33,386.53 L248.00,386.25 L247.64,385.95 L247.24,385.62 L246.82,385.28 L246.37,384.91 L245.89,384.53 L245.37,384.13 L244.82,383.71 L244.24,383.28 L243.63,382.83 L242.99,382.36 L242.31,381.89 L241.60,381.40 L240.85,380.90 L240.07,380.39 L239.26,379.87 L238.41,379.35 L237.53,378.81 L236.62,378.27 L235.67,377.73 L234.68,377.18 L233.66,376.62 L232.60,376.06 L231.51,375.51 L230.38,374.94 L229.21,374.38 L228.01,373.82 L226.77,373.26 L225.49,372.70 L224.18,372.14 L222.83,371.58 L221.44,371.02 L220.02,370.46 L218.56,369.90 L217.06,369.35 L215.52,368.79 L213.94,368.24 L212.33,367.68 L210.67,367.13 L208.98,366.58 L207.25,366.02 L205.48,365.46 L203.67,364.90 L201.83,364.33 L199.94,363.75 L198.01,363.17 L196.05,362.57 L194.04,361.97 L192.00,361.35 L189.91,360.71 L187.79,360.04 L185.62,359.36 L183.42,358.65 L181.17,357.90 L178.88,357.11 L176.55,356.30"/>
<path d="M131.25,295.60 L128.52,303.03"/>
<path d="M177.00,171.70 L183.56,171.90 L190.01,172.10 L196.34,172.31 L202.56,172.52 L208.66,172.75 L214.65,172.98 L220.53,173.22 L226.30,173.47 L231.95,173.73 L237.49,174.01 L242.92,174.29 L248.24,174.59 L253.45,174.91 L258.55,175.24 L263.53,175.58 L268.41,175.94 L273.18,176.32 L277.84,176.71 L282.39,177.13 L286.83,177.56 L291.17,178.01 L295.40,178.48 L299.52,178.97 L303.54,179.48 L307.45,180.02 L311.25,180.57 L314.95,181.14 L318.55,181.74 L322.04,182.35 L325.43,182.99 L328.72,183.64 L331.90,184.31 L334.98,184.99 L337.97,185.70 L340.85,186.41 L343.63,187.14 L346.31,187.88 L348.89,188.64 L351.38,189.40 L353.77,190.16 L356.06,190.93 L358.25,191.70 L360.35,192.47 L362.36,193.24 L364.27,194.00 L366.08,194.75 L367.81,195.49 L369.44,196.21 L370.98,196.92 L372.44,197.61 L373.80,198.27 L375.08,198.91 L376.27,199.53 L377.37,200.11 L378.39,200.66 L379.32,201.18 L380.17,201.66 L380.95,202.10 L381.64,202.50 L382.25,202.86 L382.79,203.18 L383.25,203.46 L383.64,203.70 L383.96,203.90 L384.21,204.05 L384.39,204.17 L384.51,204.25 L384.58,204.29 L384.60,204.30 L363.46,260.63"/>
<path d="M177.00,171.70 L152.00,237.58"/>
<path d="M177.40,228.50 L183.60,228.76 L189.69,229.03 L195.68,229.31 L201.56,229.59 L207.33,229.87 L212.99,230.16 L218.54,230.47 L223.99,230.78 L229.33,231.10 L234.57,231.43 L239.70,231.78 L244.73,232.13 L249.65,232.51 L254.47,232.89 L259.18,233.30 L263.79,233.72 L268.30,234.16 L272.70,234.62 L277.00,235.10 L281.20,235.61 L285.30,236.13 L289.30,236.68 L293.19,237.25 L296.99,237.84 L300.68,238.46 L304.28,239.11 L307.78,239.78 L311.18,240.47 L314.48,241.19 L317.68,241.93 L320.79,242.70 L323.79,243.49 L326.71,244.31 L329.53,245.14 L332.25,246.00 L334.88,246.87 L337.41,247.77 L339.85,248.67 L342.20,249.59 L344.46,250.52 L346.62,251.46 L348.70,252.40 L350.68,253.35 L352.58,254.29 L354.38,255.23 L356.10,256.16 L357.73,257.09 L359.27,257.99 L360.73,258.88 L362.11,259.74 L363.39,260.58 L364.60,261.39 L365.72,262.17 L366.77,262.91 L367.73,263.62 L368.61,264.27 L369.42,264.89 L370.15,265.46 L370.80,265.98 L371.38,266.44 L371.89,266.86 L372.32,267.22 L372.69,267.53 L372.99,267.78 L373.23,267.98 L373.40,268.13 L373.52,268.23 L373.58,268.28 L373.60,268.30 L354.78,319.10"/>
<path d="M177.40,228.50 L173.42,239.10"/>
<path d="M278.50,294.61 L281.28,295.02 L284.01,295.44 L286.69,295.89 L289.33,296.35 L291.92,296.83 L294.46,297.33 L296.95,297.84 L299.39,298.37 L301.79,298.91 L304.14,299.46 L306.44,300.03 L308.70,300.62 L310.90,301.21 L313.06,301.81 L315.18,302.43 L317.25,303.05 L319.27,303.68 L321.24,304.32 L323.17,304.97 L325.06,305.62 L326.89,306.27 L328.69,306.93 L330.43,307.59 L332.14,308.26 L333.79,308.92 L335.41,309.59 L336.98,310.25 L338.50,310.91 L339.98,311.57 L341.42,312.22 L342.81,312.87 L344.16,313.51 L345.47,314.15 L346.73,314.78 L347.95,315.40 L349.13,316.01 L350.27,316.61 L351.36,317.19 L352.42,317.77 L353.43,318.33 L354.40,318.88 L355.33,319.42 L356.22,319.93 L357.07,320.43 L357.88,320.92 L358.65,321.39 L359.38,321.84 L360.07,322.27 L360.73,322.68 L361.34,323.07 L361.92,323.44 L362.46,323.79 L362.97,324.12 L363.43,324.42 L363.87,324.71 L364.26,324.97 L364.62,325.22 L364.95,325.44 L365.24,325.64 L365.50,325.81 L365.73,325.97 L365.93,326.10 L366.09,326.22 L366.23,326.31 L366.33,326.38 L366.41,326.44 L366.46,326.47 L366.49,326.49 L366.50,326.50 L340.40,396.20 L340.39,396.19 L340.37,396.17 L340.32,396.14 L340.25,396.08 L340.15,396.01 L340.03,395.91 L339.88,395.80 L339.70,395.66 L339.49,395.50 L339.25,395.32 L338.99,395.11 L338.69,394.89 L338.36,394.64 L338.00,394.37 L337.61,394.08 L337.18,393.76 L336.72,393.42 L336.23,393.06 L335.70,392.68 L335.14,392.28 L334.54,391.86 L333.91,391.41 L333.24,390.95 L332.54,390.47 L331.80,389.97 L331.03,389.45 L330.22,388.91 L329.37,388.36 L328.48,387.79 L327.56,387.20 L326.60,386.60 L325.60,385.99 L324.56,385.36 L323.49,384.73 L322.37,384.08 L321.22,383.42 L320.03,382.75 L318.80,382.07 L317.53,381.38 L316.22,380.69 L314.87,379.99 L313.48,379.29 L312.05,378.58 L310.58,377.87 L309.07,377.16 L307.51,376.44 L305.92,375.73 L304.28,375.01 L302.61,374.30 L300.89,373.59 L299.13,372.88 L297.33,372.18 L295.49,371.48 L293.60,370.79 L291.67,370.10 L289.70,369.42 L287.69,368.75 L285.64,368.09 L283.54,367.44 L281.39,366.79 L279.21,366.16 L276.98,365.55 L274.71,364.94 L272.39,364.35 L270.03,363.77 L267.63,363.21 L265.18,362.66 L262.69,362.12 L260.15,361.61"/>
<path d="M285.00,177.20 L291.08,177.06 L297.06,176.95 L302.93,176.88 L308.70,176.85 L314.36,176.88 L319.92,176.95 L325.37,177.07 L330.71,177.25 L335.95,177.48 L341.09,177.77 L346.13,178.11 L351.06,178.52 L355.89,178.97 L360.61,179.49 L365.24,180.06 L369.76,180.68 L374.18,181.36 L378.50,182.10 L382.72,182.88 L386.84,183.72 L390.86,184.61 L394.79,185.54 L398.61,186.52 L402.33,187.55 L405.96,188.61 L409.49,189.72 L412.92,190.86 L416.25,192.03 L419.49,193.24 L422.63,194.46 L425.68,195.71 L428.63,196.97 L431.49,198.24 L434.26,199.52 L436.93,200.81 L439.51,202.09 L441.99,203.38 L444.39,204.65 L446.69,205.92 L448.91,207.17 L451.03,208.41 L453.07,209.62 L455.01,210.81 L456.87,211.98 L458.64,213.12 L460.33,214.22 L461.93,215.29 L463.44,216.32 L464.88,217.32 L466.22,218.27 L467.49,219.18 L468.67,220.04 L469.77,220.86 L470.80,221.63 L471.74,222.34 L472.61,223.01 L473.40,223.62 L474.11,224.18 L474.75,224.69 L475.32,225.14 L475.82,225.54 L476.25,225.88 L476.61,226.17 L476.90,226.41 L477.13,226.60 L477.31,226.74 L477.42,226.84 L477.48,226.89 L477.50,226.90 L463.09,266.38"/>
<path d="M372.26,237.20 L375.46,237.38 L378.60,237.78 L381.69,238.20 L384.72,238.65 L387.70,239.11 L390.62,239.60 L393.49,240.11 L396.30,240.64 L399.05,241.19 L401.76,241.76 L404.41,242.35 L407.00,242.95 L409.54,243.57 L412.02,244.20 L414.46,244.85 L416.84,245.52 L419.16,246.19 L421.43,246.88 L423.65,247.58 L425.82,248.29 L427.93,249.01 L430.00,249.73 L432.01,250.47 L433.97,251.21 L435.87,251.95 L437.73,252.70 L439.53,253.45 L441.29,254.20 L442.99,254.95 L444.64,255.70 L446.25,256.46 L447.80,257.22 L449.30,257.97 L450.76,258.73 L452.16,259.48 L453.52,260.24 L454.83,260.99 L456.09,261.74 L457.30,262.48 L458.46,263.21 L459.58,263.94 L460.65,264.66 L461.67,265.37 L462.65,266.06 L463.58,266.75 L464.47,267.42 L465.31,268.07 L466.11,268.70 L466.86,269.31 L467.57,269.91 L468.23,270.48 L468.86,271.02 L469.44,271.54 L469.97,272.03 L470.47,272.49 L470.93,272.92 L471.34,273.32 L471.72,273.69 L472.05,274.02 L472.35,274.32 L472.62,274.58 L472.84,274.81 L473.03,275.01 L473.19,275.17 L473.31,275.30 L473.40,275.39 L473.46,275.45 L473.49,275.49 L473.50,275.50 L452.94,328.58"/>
<path d="M363.41,295.80 L366.54,296.19 L369.61,296.68 L372.63,297.19 L375.60,297.74 L378.51,298.30 L381.37,298.90 L384.17,299.51 L386.92,300.15 L389.61,300.80 L392.26,301.48 L394.84,302.17 L397.38,302.88 L399.86,303.60 L402.29,304.34 L404.67,305.09 L407.00,305.85 L409.27,306.63 L411.49,307.41 L413.66,308.21 L415.78,309.01 L417.85,309.81 L419.87,310.63 L421.83,311.44 L423.75,312.26 L425.61,313.08 L427.43,313.90 L429.19,314.73 L430.90,315.55 L432.57,316.36 L434.19,317.18 L435.75,317.99 L437.27,318.80 L438.74,319.60 L440.16,320.40 L441.54,321.19 L442.86,321.96 L444.14,322.73 L445.37,323.49 L446.56,324.24 L447.70,324.98 L448.79,325.69 L449.84,326.40 L450.84,327.09 L451.79,327.76 L452.70,328.41 L453.57,329.04 L454.39,329.65 L455.17,330.23 L455.91,330.80 L456.60,331.34 L457.25,331.85 L457.86,332.34 L458.43,332.80 L458.95,333.23 L459.44,333.63 L459.88,334.01 L460.29,334.35 L460.66,334.67 L460.99,334.95 L461.28,335.21 L461.54,335.43 L461.76,335.62 L461.94,335.79 L462.09,335.92 L462.21,336.03 L462.30,336.11 L462.36,336.16 L462.39,336.19 L462.40,336.20 L440.80,392.30 L440.79,392.29 L440.77,392.27 L440.71,392.22 L440.64,392.15 L440.54,392.06 L440.41,391.94 L440.25,391.80 L440.06,391.63 L439.84,391.43 L439.59,391.21 L439.31,390.96 L439.00,390.68 L438.65,390.38 L438.27,390.05 L437.86,389.69 L437.41,389.31 L436.93,388.90 L436.41,388.47 L435.85,388.01 L435.26,387.53 L434.63,387.03 L433.97,386.50 L433.27,385.96 L432.53,385.39 L431.75,384.81 L430.93,384.21 L430.08,383.59 L429.19,382.95 L428.25,382.30 L427.28,381.64 L426.27,380.96 L425.22,380.28 L424.13,379.58 L423.00,378.87 L421.82,378.15 L420.61,377.43 L419.36,376.70 L418.06,375.96 L416.72,375.22 L415.35,374.47 L413.92,373.72 L412.46,372.97 L410.96,372.22 L409.41,371.47 L407.82,370.72 L406.18,369.96 L404.50,369.21 L402.78,368.47 L401.02,367.72 L399.21,366.98 L397.36,366.24 L395.46,365.50 L393.52,364.77 L391.54,364.04 L389.51,363.31 L387.44,362.59 L385.32,361.88 L383.15,361.17 L380.94,360.46 L378.69,359.76 L376.39,359.07 L374.04,358.37 L371.65,357.69 L369.21,357.01 L366.73,356.33 L364.20,355.66 L361.62,354.99 L359.00,354.32 L356.33,353.66"/>
<path d="M383.80,114.80 L389.64,114.80 L395.38,114.80 L401.02,114.81 L406.55,114.82 L411.99,114.85 L417.32,114.89 L422.55,114.96 L427.68,115.04 L432.72,115.15 L437.65,115.29 L442.48,115.45 L447.22,115.64 L451.85,115.86 L456.39,116.12 L460.83,116.40 L465.17,116.71 L469.42,117.06 L473.56,117.44 L477.62,117.84 L481.57,118.28 L485.43,118.74 L489.19,119.24 L492.86,119.76 L496.44,120.30 L499.92,120.87 L503.31,121.47 L506.60,122.08 L509.80,122.71 L512.91,123.36 L515.93,124.03 L518.85,124.71 L521.69,125.40 L524.43,126.11 L527.09,126.82 L529.65,127.53 L532.13,128.25 L534.51,128.98 L536.81,129.70 L539.03,130.42 L541.15,131.13 L543.19,131.84 L545.15,132.54 L547.01,133.23 L548.80,133.90 L550.50,134.56 L552.12,135.20 L553.65,135.83 L555.11,136.44 L556.48,137.02 L557.77,137.58 L558.99,138.12 L560.12,138.62 L561.18,139.11 L562.16,139.56 L563.07,139.99 L563.90,140.38 L564.66,140.75 L565.35,141.08 L565.96,141.38 L566.51,141.65 L566.99,141.89 L567.40,142.09 L567.74,142.27 L568.03,142.41 L568.25,142.52 L568.41,142.61 L568.52,142.66 L568.58,142.69 L568.60,142.70 L546.63,201.48"/>
<path d="M383.80,114.80 L359.93,178.00"/>
<path d="M360.00,178.00 L366.27,178.18 L372.43,178.37 L378.48,178.56 L384.43,178.76 L390.26,178.96 L395.99,179.17 L401.60,179.38 L407.11,179.60 L412.52,179.83 L417.81,180.07 L423.00,180.31 L428.08,180.57 L433.06,180.84 L437.93,181.12 L442.70,181.42 L447.36,181.72 L451.92,182.05 L456.37,182.39 L460.72,182.74 L464.97,183.11 L469.11,183.50 L473.15,183.91 L477.09,184.34 L480.93,184.79 L484.67,185.25 L488.30,185.74 L491.84,186.24 L495.28,186.77 L498.61,187.31 L501.85,187.88 L504.99,188.47 L508.04,189.07 L510.98,189.69 L513.83,190.33 L516.59,190.99 L519.24,191.66 L521.81,192.34 L524.28,193.04 L526.65,193.74 L528.93,194.46 L531.12,195.18 L533.22,195.90 L535.23,196.63 L537.14,197.36 L538.97,198.08 L540.70,198.80 L542.35,199.50 L543.91,200.20 L545.39,200.88 L546.78,201.55 L548.08,202.19 L549.30,202.81 L550.44,203.41 L551.49,203.98 L552.46,204.52 L553.36,205.02 L554.17,205.49 L554.91,205.93 L555.57,206.32 L556.15,206.68 L556.67,207.00 L557.11,207.27 L557.48,207.51 L557.78,207.70 L558.02,207.86 L558.20,207.97 L558.32,208.05 L558.38,208.09 L558.40,208.10 L538.27,263.03"/>
<path d="M473.00,239.23 L475.37,239.77 L477.70,240.31 L479.99,240.86 L482.23,241.41 L484.44,241.98 L486.60,242.55 L488.73,243.12 L490.81,243.70 L492.85,244.29 L494.85,244.88 L496.82,245.47 L498.74,246.07 L500.62,246.67 L502.46,247.27 L504.26,247.88 L506.02,248.49 L507.75,249.10 L509.43,249.71 L511.07,250.33 L512.68,250.94 L514.25,251.55 L515.77,252.16 L517.26,252.77 L518.71,253.38 L520.13,253.98 L521.50,254.58 L522.84,255.17 L524.14,255.76 L525.40,256.35 L526.62,256.93 L527.81,257.50 L528.96,258.06 L530.07,258.62 L531.15,259.17 L532.19,259.70 L533.20,260.23 L534.17,260.75 L535.10,261.25 L536.00,261.75 L536.86,262.23 L537.69,262.70 L538.48,263.15 L539.24,263.59 L539.96,264.02 L540.65,264.43 L541.31,264.82 L541.93,265.20 L542.52,265.56 L543.08,265.91 L543.61,266.23 L544.10,266.55 L544.56,266.84 L544.99,267.11 L545.39,267.37 L545.76,267.61 L546.09,267.83 L546.40,268.03 L546.68,268.22 L546.93,268.38 L547.15,268.53 L547.34,268.66 L547.51,268.77 L547.65,268.87 L547.77,268.94 L547.86,269.00 L547.92,269.05 L547.97,269.08 L547.99,269.10 L548.00,269.10 L532.51,310.96"/>
<path d="M469.97,284.60 L472.42,284.99 L474.82,285.40 L477.18,285.85 L479.49,286.32 L481.77,286.82 L484.00,287.34 L486.19,287.89 L488.34,288.47 L490.44,289.07 L492.51,289.69 L494.53,290.34 L496.51,291.01 L498.45,291.70 L500.35,292.40 L502.21,293.13 L504.02,293.87 L505.80,294.64 L507.53,295.41 L509.23,296.20 L510.88,297.01 L512.50,297.82 L514.07,298.65 L515.61,299.48 L517.11,300.33 L518.56,301.18 L519.98,302.03 L521.36,302.89 L522.70,303.75 L524.00,304.62 L525.26,305.48 L526.48,306.34 L527.67,307.20 L528.82,308.06 L529.93,308.90 L531.00,309.75 L532.04,310.58 L533.04,311.40 L534.00,312.21 L534.93,313.00 L535.81,313.78 L536.67,314.55 L537.49,315.30 L538.27,316.02 L539.01,316.73 L539.73,317.42 L540.40,318.08 L541.05,318.72 L541.65,319.34 L542.23,319.93 L542.77,320.49 L543.28,321.03 L543.75,321.53 L544.20,322.01 L544.61,322.46 L544.99,322.87 L545.33,323.26 L545.65,323.61 L545.94,323.94 L546.20,324.23 L546.42,324.49 L546.62,324.72 L546.80,324.92 L546.94,325.08 L547.06,325.22 L547.15,325.33 L547.22,325.41 L547.27,325.46 L547.29,325.49 L547.30,325.50 L527.60,380.80 L527.59,380.79 L527.57,380.76 L527.53,380.70 L527.47,380.62 L527.39,380.50 L527.28,380.36 L527.15,380.18 L527.00,379.98 L526.82,379.74 L526.61,379.47 L526.38,379.17 L526.13,378.84 L525.84,378.48 L525.53,378.09 L525.20,377.67 L524.83,377.23 L524.43,376.76 L524.01,376.27 L523.56,375.75 L523.07,375.22 L522.56,374.66 L522.02,374.09 L521.44,373.51 L520.84,372.91 L520.20,372.29 L519.54,371.67 L518.84,371.04 L518.11,370.40 L517.35,369.75 L516.55,369.10 L515.72,368.45 L514.87,367.80 L513.97,367.14 L513.05,366.49 L512.09,365.84 L511.10,365.19 L510.07,364.54 L509.01,363.90 L507.92,363.26 L506.79,362.63 L505.63,362.01 L504.44,361.39 L503.21,360.77 L501.94,360.17 L500.64,359.57 L499.31,358.97 L497.93,358.38 L496.53,357.80 L495.09,357.22 L493.61,356.65 L492.09,356.09 L490.54,355.53 L488.96,354.97 L487.34,354.41 L485.68,353.86 L483.98,353.32 L482.25,352.77 L480.48,352.23 L478.68,351.68 L476.83,351.14 L474.95,350.60 L473.04,350.05 L471.08,349.51 L469.09,348.96 L467.06,348.41 L464.99,347.86 L462.88,347.30 L460.74,346.74 L458.56,346.18"/>
<path d="M438.50,103.90 L445.04,103.89 L451.47,103.88 L457.78,103.88 L463.99,103.88 L470.07,103.89 L476.05,103.92 L481.91,103.95 L487.66,103.98 L493.29,104.03 L498.82,104.09 L504.23,104.16 L509.54,104.25 L514.73,104.34 L519.81,104.46 L524.78,104.58 L529.65,104.72 L534.40,104.88 L539.05,105.05 L543.59,105.25 L548.02,105.46 L552.34,105.69 L556.56,105.94 L560.67,106.21 L564.67,106.50 L568.57,106.81 L572.36,107.14 L576.05,107.50 L579.64,107.87 L583.12,108.27 L586.50,108.69 L589.78,109.13 L592.95,109.59 L596.03,110.07 L599.00,110.57 L601.87,111.09 L604.65,111.63 L607.32,112.18 L609.90,112.75 L612.37,113.33 L614.75,113.92 L617.04,114.52 L619.23,115.12 L621.32,115.74 L623.32,116.35 L625.22,116.96 L627.04,117.58 L628.76,118.18 L630.39,118.78 L631.92,119.37 L633.37,119.95 L634.73,120.51 L636.01,121.05 L637.19,121.57 L638.29,122.07 L639.31,122.54 L640.24,122.98 L641.09,123.40 L641.86,123.78 L642.55,124.13 L643.16,124.44 L643.69,124.72 L644.15,124.97 L644.54,125.18 L644.86,125.35 L645.11,125.48 L645.29,125.58 L645.41,125.65 L645.48,125.69 L645.50,125.70 L618.84,198.24"/>
<path d="M438.50,103.90 L434.51,115.20"/>
<path d="M556.24,175.79 L558.54,176.19 L560.81,176.60 L563.03,177.02 L565.22,177.46 L567.36,177.90 L569.47,178.35 L571.54,178.82 L573.56,179.29 L575.55,179.78 L577.50,180.28 L579.40,180.78 L581.27,181.30 L583.10,181.82 L584.90,182.36 L586.65,182.90 L588.36,183.46 L590.04,184.02 L591.68,184.59 L593.28,185.17 L594.84,185.76 L596.36,186.35 L597.85,186.95 L599.30,187.55 L600.71,188.16 L602.08,188.78 L603.42,189.39 L604.72,190.01 L605.98,190.63 L607.21,191.26 L608.40,191.88 L609.56,192.50 L610.68,193.12 L611.76,193.74 L612.81,194.36 L613.82,194.97 L614.80,195.57 L615.74,196.17 L616.65,196.76 L617.52,197.34 L618.36,197.91 L619.17,198.47 L619.94,199.02 L620.68,199.55 L621.38,200.07 L622.05,200.58 L622.69,201.07 L623.30,201.54 L623.87,202.00 L624.41,202.44 L624.93,202.85 L625.40,203.25 L625.85,203.63 L626.27,203.98 L626.66,204.32 L627.02,204.63 L627.35,204.92 L627.64,205.18 L627.92,205.43 L628.16,205.64 L628.37,205.84 L628.56,206.01 L628.72,206.16 L628.86,206.29 L628.97,206.39 L629.06,206.47 L629.13,206.53 L629.17,206.57 L629.19,206.59 L629.20,206.60 L604.68,274.61"/>
<path d="M544.29,246.60 L546.56,247.10 L548.79,247.69 L550.98,248.30 L553.13,248.93 L555.24,249.56 L557.32,250.22 L559.35,250.88 L561.34,251.56 L563.30,252.25 L565.22,252.95 L567.09,253.66 L568.93,254.38 L570.73,255.11 L572.50,255.84 L574.22,256.59 L575.91,257.33 L577.56,258.09 L579.17,258.85 L580.75,259.61 L582.28,260.38 L583.78,261.15 L585.24,261.92 L586.67,262.69 L588.06,263.46 L589.41,264.23 L590.73,265.01 L592.01,265.77 L593.25,266.54 L594.46,267.30 L595.63,268.06 L596.77,268.81 L597.87,269.56 L598.94,270.30 L599.97,271.03 L600.97,271.75 L601.93,272.47 L602.86,273.17 L603.75,273.87 L604.61,274.55 L605.43,275.21 L606.23,275.87 L606.99,276.51 L607.71,277.13 L608.41,277.73 L609.07,278.32 L609.70,278.89 L610.29,279.44 L610.86,279.96 L611.39,280.47 L611.89,280.95 L612.36,281.41 L612.81,281.85 L613.22,282.26 L613.60,282.65 L613.95,283.01 L614.27,283.34 L614.57,283.65 L614.84,283.93 L615.08,284.19 L615.29,284.41 L615.47,284.61 L615.63,284.79 L615.77,284.93 L615.88,285.05 L615.96,285.15 L616.03,285.22 L616.07,285.27 L616.09,285.29 L616.10,285.30 L603.62,320.71"/>
<path d="M538.85,293.85 L541.45,294.47 L544.01,295.11 L546.53,295.77 L549.00,296.44 L551.42,297.13 L553.80,297.83 L556.14,298.55 L558.43,299.28 L560.67,300.02 L562.87,300.77 L565.03,301.54 L567.14,302.32 L569.21,303.10 L571.23,303.90 L573.21,304.70 L575.15,305.51 L577.05,306.32 L578.90,307.14 L580.70,307.97 L582.47,308.79 L584.19,309.62 L585.87,310.45 L587.51,311.28 L589.10,312.12 L590.66,312.94 L592.17,313.77 L593.64,314.59 L595.07,315.41 L596.45,316.22 L597.80,317.03 L599.10,317.83 L600.37,318.61 L601.59,319.39 L602.78,320.16 L603.92,320.91 L605.03,321.66 L606.09,322.39 L607.12,323.10 L608.10,323.80 L609.05,324.48 L609.96,325.14 L610.83,325.79 L611.67,326.41 L612.46,327.02 L613.22,327.60 L613.95,328.16 L614.63,328.71 L615.28,329.22 L615.89,329.72 L616.47,330.19 L617.01,330.63 L617.52,331.05 L617.99,331.45 L618.43,331.81 L618.83,332.16 L619.20,332.47 L619.54,332.76 L619.85,333.03 L620.12,333.27 L620.37,333.48 L620.58,333.66 L620.76,333.83 L620.92,333.96 L621.04,334.07 L621.14,334.16 L621.22,334.23 L621.27,334.27 L621.29,334.29 L621.30,334.30 L587.60,420.40 L587.59,420.39 L587.58,420.35 L587.54,420.29 L587.49,420.19 L587.42,420.05 L587.34,419.88 L587.23,419.67 L587.10,419.43 L586.96,419.14 L586.79,418.82 L586.60,418.46 L586.39,418.06 L586.16,417.63 L585.90,417.16 L585.62,416.65 L585.32,416.11 L585.00,415.53 L584.65,414.92 L584.28,414.28 L583.88,413.60 L583.46,412.90 L583.01,412.17 L582.54,411.42 L582.04,410.64 L581.52,409.84 L580.97,409.01 L580.40,408.17 L579.80,407.31 L579.18,406.43 L578.52,405.54 L577.84,404.64 L577.14,403.73 L576.41,402.80 L575.65,401.87 L574.86,400.94 L574.04,399.99 L573.20,399.05 L572.33,398.10 L571.43,397.15 L570.51,396.21 L569.55,395.26 L568.57,394.32 L567.56,393.38 L566.52,392.44 L565.45,391.51 L564.35,390.59 L563.23,389.67 L562.07,388.76 L560.89,387.86 L559.67,386.97 L558.43,386.08 L557.16,385.20 L555.86,384.34 L554.52,383.48 L553.16,382.63 L551.77,381.79 L550.34,380.95 L548.89,380.13 L547.41,379.32 L545.89,378.51 L544.35,377.71 L542.77,376.92 L541.17,376.14 L539.53,375.37 L537.86,374.60 L536.16,373.84 L534.43,373.09 L532.67,372.34 L530.88,371.59"/>
<path d="M438.60,45.10 L445.22,45.14 L451.73,45.16 L458.13,45.17 L464.41,45.18 L470.57,45.18 L476.62,45.18 L482.55,45.19 L488.37,45.20 L494.08,45.21 L499.68,45.24 L505.16,45.28 L510.53,45.33 L515.79,45.39 L520.93,45.47 L525.97,45.56 L530.89,45.67 L535.71,45.80 L540.41,45.94 L545.01,46.10 L549.49,46.28 L553.87,46.47 L558.14,46.68 L562.30,46.90 L566.36,47.14 L570.30,47.39 L574.15,47.66 L577.88,47.94 L581.51,48.23 L585.04,48.53 L588.46,48.84 L591.78,49.16 L594.99,49.49 L598.11,49.83 L601.12,50.17 L604.02,50.51 L606.83,50.86 L609.54,51.20 L612.15,51.55 L614.66,51.90 L617.07,52.25 L619.38,52.59 L621.60,52.93 L623.72,53.27 L625.74,53.59 L627.67,53.92 L629.51,54.23 L631.25,54.53 L632.90,54.83 L634.45,55.11 L635.92,55.39 L637.30,55.65 L638.59,55.89 L639.79,56.13 L640.90,56.35 L641.93,56.55 L642.87,56.74 L643.73,56.92 L644.51,57.07 L645.21,57.22 L645.83,57.34 L646.37,57.46 L646.83,57.55 L647.23,57.64 L647.55,57.70 L647.80,57.76 L647.99,57.80 L648.11,57.82 L648.18,57.84 L648.20,57.84 L625.83,117.17"/>
<path d="M438.60,45.10 L411.91,114.85"/>
<path d="M640.00,56.17 L642.84,56.74 L645.64,57.31 L648.38,57.88 L651.08,58.45 L653.73,59.02 L656.32,59.59 L658.87,60.16 L661.37,60.72 L663.82,61.27 L666.23,61.81 L668.58,62.35 L670.88,62.88 L673.14,63.41 L675.35,63.93 L677.51,64.45 L679.63,64.97 L681.70,65.48 L683.72,66.00 L685.69,66.51 L687.62,67.03 L689.50,67.54 L691.33,68.06 L693.12,68.57 L694.86,69.09 L696.55,69.60 L698.20,70.12 L699.81,70.63 L701.36,71.15 L702.88,71.66 L704.35,72.17 L705.77,72.68 L707.15,73.19 L708.49,73.69 L709.78,74.19 L711.03,74.69 L712.24,75.18 L713.40,75.67 L714.52,76.15 L715.60,76.63 L716.63,77.09 L717.63,77.55 L718.58,78.00 L719.49,78.44 L720.36,78.87 L721.18,79.29 L721.97,79.69 L722.72,80.08 L723.43,80.46 L724.10,80.82 L724.73,81.17 L725.32,81.50 L725.87,81.81 L726.39,82.11 L726.87,82.39 L727.31,82.65 L727.71,82.89 L728.08,83.11 L728.42,83.31 L728.72,83.50 L728.98,83.66 L729.21,83.81 L729.41,83.93 L729.58,84.04 L729.72,84.12 L729.83,84.19 L729.91,84.24 L729.96,84.28 L729.99,84.29 L730.00,84.30 L708.10,146.18"/>
<path d="M626.80,114.60 L629.90,115.35 L632.95,116.10 L635.95,116.84 L638.89,117.59 L641.78,118.34 L644.61,119.08 L647.39,119.83 L650.12,120.59 L652.79,121.34 L655.41,122.10 L657.98,122.86 L660.50,123.63 L662.96,124.41 L665.37,125.19 L667.73,125.98 L670.04,126.78 L672.30,127.58 L674.50,128.39 L676.65,129.21 L678.75,130.04 L680.80,130.88 L682.81,131.73 L684.76,132.58 L686.65,133.45 L688.50,134.32 L690.30,135.20 L692.05,136.09 L693.76,136.99 L695.41,137.89 L697.01,138.80 L698.57,139.72 L700.07,140.64 L701.53,141.56 L702.94,142.49 L704.30,143.41 L705.62,144.34 L706.89,145.26 L708.11,146.18 L709.29,147.10 L710.41,148.01 L711.50,148.91 L712.54,149.79 L713.53,150.67 L714.48,151.53 L715.38,152.37 L716.24,153.19 L717.06,153.99 L717.83,154.77 L718.56,155.52 L719.25,156.25 L719.89,156.94 L720.50,157.61 L721.06,158.24 L721.58,158.83 L722.06,159.39 L722.50,159.91 L722.91,160.39 L723.27,160.83 L723.60,161.23 L723.89,161.59 L724.14,161.91 L724.36,162.18 L724.54,162.42 L724.69,162.61 L724.81,162.76 L724.90,162.87 L724.96,162.95 L724.99,162.99 L725.00,163.00 L702.26,226.66"/>
<path d="M623.89,184.50 L627.03,185.00 L630.11,185.58 L633.14,186.22 L636.12,186.92 L639.04,187.69 L641.90,188.51 L644.71,189.39 L647.47,190.31 L650.18,191.28 L652.83,192.30 L655.42,193.36 L657.97,194.46 L660.46,195.60 L662.90,196.77 L665.28,197.98 L667.62,199.22 L669.90,200.48 L672.13,201.78 L674.30,203.10 L676.43,204.45 L678.50,205.82 L680.53,207.22 L682.50,208.63 L684.42,210.06 L686.29,211.51 L688.11,212.98 L689.88,214.46 L691.60,215.95 L693.27,217.46 L694.89,218.98 L696.47,220.50 L697.99,222.04 L699.46,223.58 L700.89,225.12 L702.27,226.67 L703.60,228.22 L704.88,229.78 L706.12,231.33 L707.31,232.88 L708.45,234.42 L709.55,235.96 L710.60,237.49 L711.60,239.02 L712.56,240.53 L713.47,242.02 L714.34,243.50 L715.17,244.96 L715.95,246.40 L716.69,247.81 L717.38,249.19 L718.03,250.54 L718.64,251.85 L719.21,253.13 L719.74,254.36 L720.23,255.53 L720.68,256.66 L721.08,257.72 L721.45,258.71 L721.78,259.63 L722.08,260.48 L722.33,261.24 L722.55,261.91 L722.74,262.50 L722.89,262.98 L723.01,263.37 L723.10,263.66 L723.16,263.86 L723.19,263.97 L723.20,264.00 L708.17,308.40"/>
<path d="M619.29,234.10 L622.42,234.52 L625.51,235.20 L628.54,235.97 L631.51,236.82 L634.43,237.76 L637.30,238.77 L640.11,239.87 L642.87,241.03 L645.57,242.27 L648.22,243.58 L650.82,244.94 L653.37,246.37 L655.86,247.86 L658.30,249.41 L660.68,251.00 L663.02,252.65 L665.30,254.34 L667.53,256.08 L669.70,257.86 L671.83,259.68 L673.90,261.53 L675.93,263.42 L677.90,265.33 L679.82,267.28 L681.69,269.25 L683.51,271.24 L685.28,273.25 L687.00,275.29 L688.67,277.33 L690.29,279.39 L691.87,281.46 L693.39,283.53 L694.86,285.61 L696.29,287.69 L697.67,289.77 L699.00,291.85 L700.28,293.92 L701.52,295.97 L702.71,298.02 L703.85,300.05 L704.94,302.07 L705.99,304.06 L707.00,306.03 L707.96,307.96 L708.87,309.87 L709.74,311.74 L710.57,313.57 L711.35,315.36 L712.09,317.10 L712.78,318.80 L713.43,320.43 L714.04,322.00 L714.61,323.51 L715.14,324.95 L715.63,326.32 L716.08,327.61 L716.48,328.81 L716.85,329.92 L717.18,330.94 L717.48,331.87 L717.73,332.69 L717.95,333.41 L718.14,334.03 L718.29,334.54 L718.41,334.95 L718.50,335.25 L718.56,335.46 L718.59,335.57 L718.60,335.60 L689.50,413.50 L689.49,413.45 L689.47,413.28 L689.42,412.97 L689.35,412.51 L689.25,411.90 L689.13,411.16 L688.97,410.29 L688.80,409.30 L688.59,408.21 L688.35,407.02 L688.08,405.75 L687.78,404.41 L687.45,403.00 L687.09,401.53 L686.69,400.02 L686.26,398.46 L685.80,396.86 L685.31,395.23 L684.78,393.57 L684.21,391.88 L683.61,390.16 L682.98,388.43 L682.31,386.68 L681.60,384.90 L680.86,383.12 L680.08,381.32 L679.27,379.50 L678.41,377.68 L677.52,375.84 L676.60,374.00 L675.63,372.15 L674.63,370.29 L673.59,368.42 L672.51,366.55 L671.39,364.67 L670.23,362.79 L669.03,360.91 L667.80,359.02 L666.52,357.12 L665.20,355.23 L663.85,353.33 L662.45,351.42 L661.01,349.52 L659.54,347.61 L658.02,345.70 L656.46,343.79 L654.86,341.88 L653.21,339.97 L651.53,338.05 L649.81,336.13 L648.04,334.22 L646.23,332.31 L644.38,330.41 L642.48,328.53 L640.54,326.67 L638.57,324.83 L636.54,323.03 L634.48,321.26 L632.37,319.53 L630.22,317.85 L628.02,316.22 L625.78,314.64 L623.50,313.13 L621.17,311.67 L618.80,310.29 L616.39,308.97 L613.93,307.74 L611.42,306.58 L608.88,305.80"/>
<path d="M600.00,49.90 L606.30,50.02 L612.49,50.14 L618.57,50.27 L624.54,50.40 L630.40,50.54 L636.15,50.69 L641.79,50.84 L647.33,51.00 L652.75,51.17 L658.07,51.35 L663.29,51.55 L668.39,51.76 L673.39,51.98 L678.29,52.22 L683.07,52.47 L687.76,52.75 L692.33,53.04 L696.81,53.36 L701.18,53.70 L705.44,54.06 L709.60,54.45 L713.66,54.87 L717.62,55.31 L721.48,55.78 L725.23,56.29 L728.88,56.83 L732.44,57.40 L735.89,58.00 L739.24,58.64 L742.50,59.31 L745.65,60.01 L748.71,60.75 L751.67,61.53 L754.53,62.33 L757.30,63.17 L759.97,64.05 L762.54,64.95 L765.02,65.88 L767.41,66.83 L769.70,67.81 L771.90,68.81 L774.00,69.83 L776.02,70.87 L777.94,71.91 L779.78,72.96 L781.52,74.01 L783.18,75.06 L784.75,76.10 L786.23,77.13 L787.62,78.14 L788.93,79.14 L790.16,80.10 L791.30,81.03 L792.36,81.93 L793.34,82.78 L794.23,83.58 L795.05,84.34 L795.79,85.04 L796.46,85.68 L797.04,86.26 L797.56,86.78 L798.00,87.24 L798.38,87.62 L798.68,87.94 L798.92,88.20 L799.10,88.38 L799.22,88.51 L799.28,88.58 L799.30,88.60 L777.43,147.25"/>
<path d="M717.49,119.64 L720.09,120.32 L722.63,121.01 L725.13,121.71 L727.59,122.43 L730.00,123.16 L732.37,123.91 L734.69,124.67 L736.97,125.44 L739.20,126.24 L741.39,127.04 L743.53,127.87 L745.64,128.70 L747.69,129.56 L749.71,130.43 L751.68,131.31 L753.60,132.21 L755.49,133.13 L757.33,134.06 L759.12,135.01 L760.88,135.97 L762.59,136.94 L764.26,137.93 L765.89,138.93 L767.48,139.94 L769.02,140.96 L770.53,141.99 L771.99,143.03 L773.41,144.08 L774.79,145.13 L776.13,146.19 L777.42,147.25 L778.68,148.31 L779.90,149.38 L781.08,150.44 L782.22,151.50 L783.32,152.55 L784.37,153.60 L785.39,154.64 L786.38,155.67 L787.32,156.69 L788.22,157.69 L789.09,158.67 L789.92,159.64 L790.71,160.58 L791.47,161.50 L792.19,162.40 L792.87,163.27 L793.51,164.11 L794.12,164.92 L794.70,165.70 L795.23,166.44 L795.74,167.15 L796.21,167.82 L796.64,168.44 L797.05,169.03 L797.42,169.58 L797.75,170.09 L798.06,170.55 L798.33,170.97 L798.57,171.34 L798.78,171.67 L798.97,171.95 L799.12,172.20 L799.25,172.39 L799.34,172.55 L799.42,172.67 L799.47,172.75 L799.49,172.79 L799.50,172.80 L776.54,230.65"/>
<path d="M716.04,188.10 L718.66,188.24 L721.23,189.11 L723.77,190.03 L726.25,191.00 L728.69,192.03 L731.08,193.12 L733.43,194.25 L735.74,195.43 L738.00,196.65 L740.21,197.92 L742.38,199.23 L744.51,200.57 L746.59,201.95 L748.62,203.37 L750.62,204.81 L752.57,206.29 L754.47,207.80 L756.33,209.33 L758.15,210.89 L759.93,212.47 L761.66,214.07 L763.35,215.69 L765.00,217.32 L766.60,218.97 L768.17,220.64 L769.69,222.32 L771.17,224.00 L772.60,225.70 L774.00,227.40 L775.35,229.11 L776.67,230.82 L777.94,232.53 L779.17,234.24 L780.36,235.95 L781.51,237.65 L782.63,239.35 L783.70,241.04 L784.73,242.71 L785.72,244.38 L786.68,246.03 L787.59,247.66 L788.47,249.28 L789.31,250.87 L790.11,252.43 L790.87,253.97 L791.60,255.48 L792.29,256.96 L792.94,258.40 L793.56,259.80 L794.14,261.16 L794.68,262.47 L795.19,263.74 L795.67,264.95 L796.11,266.10 L796.52,267.20 L796.89,268.23 L797.23,269.19 L797.54,270.08 L797.82,270.89 L798.06,271.63 L798.28,272.29 L798.46,272.86 L798.62,273.35 L798.74,273.76 L798.84,274.08 L798.92,274.32 L798.97,274.49 L798.99,274.57 L799.00,274.60 L756.10,388.20 L756.10,388.19 L756.08,388.14 L756.05,388.06 L756.01,387.94 L755.95,387.78 L755.88,387.58 L755.80,387.32 L755.69,387.03 L755.57,386.68 L755.43,386.29 L755.28,385.84 L755.10,385.35 L754.91,384.81 L754.70,384.22 L754.47,383.58 L754.22,382.89 L753.95,382.15 L753.67,381.37 L753.36,380.53 L753.03,379.65 L752.68,378.72 L752.31,377.74 L751.93,376.72 L751.52,375.66 L751.09,374.55 L750.63,373.41 L750.16,372.22 L749.67,371.00 L749.15,369.73 L748.61,368.44 L748.05,367.11 L747.47,365.75 L746.86,364.36 L746.24,362.94 L745.59,361.50 L744.91,360.03 L744.22,358.54 L743.50,357.03 L742.76,355.51 L742.00,353.96 L741.21,352.41 L740.40,350.84 L739.56,349.26 L738.71,347.68 L737.83,346.09 L736.92,344.49 L735.99,342.90 L735.04,341.30 L734.06,339.70 L733.06,338.11 L732.03,336.51 L730.98,334.93 L729.91,333.35 L728.81,331.78 L727.68,330.22 L726.53,328.67 L725.36,327.13 L724.16,325.61 L722.94,324.10 L721.69,322.60 L720.41,321.13 L719.11,319.67 L717.79,318.22 L716.44,316.80 L715.06,315.40 L713.66,314.02 L712.23,312.66 L710.78,311.32 L709.30,310.00"/>
<path d="M600.00,49.20 L608.26,49.72 L616.37,50.11 L624.33,50.39 L632.16,50.58 L639.84,50.71 L647.38,50.78 L654.77,50.83 L662.03,50.85 L669.14,50.87 L676.11,50.89 L682.94,50.93 L689.63,51.00 L696.19,51.09 L702.60,51.22 L708.87,51.40 L715.01,51.62 L721.01,51.90 L726.87,52.24 L732.60,52.65 L738.19,53.11 L743.65,53.65 L748.97,54.26 L754.15,54.94 L759.21,55.69 L764.13,56.51 L768.91,57.41 L773.57,58.37 L778.09,59.40 L782.49,60.49 L786.75,61.64 L790.89,62.86 L794.89,64.13 L798.77,65.45 L802.52,66.83 L806.15,68.25 L809.65,69.72 L813.02,71.23 L816.27,72.77 L819.40,74.35 L822.40,75.95 L825.29,77.58 L828.05,79.22 L830.69,80.87 L833.21,82.53 L835.62,84.19 L837.90,85.85 L840.07,87.49 L842.13,89.11 L844.07,90.71 L845.90,92.28 L847.61,93.81 L849.22,95.29 L850.71,96.72 L852.10,98.09 L853.38,99.40 L854.56,100.63 L855.63,101.78 L856.60,102.85 L857.47,103.84 L858.24,104.72 L858.92,105.52 L859.50,106.21 L859.99,106.80 L860.39,107.29 L860.70,107.68 L860.94,107.97 L861.09,108.16 L861.18,108.27 L861.20,108.30 L841.04,161.95"/>
<path d="M785.28,126.20 L787.68,126.82 L790.03,127.47 L792.34,128.16 L794.60,128.89 L796.83,129.66 L799.02,130.46 L801.16,131.30 L803.26,132.18 L805.32,133.09 L807.35,134.05 L809.33,135.03 L811.27,136.06 L813.17,137.12 L815.02,138.21 L816.84,139.34 L818.62,140.51 L820.36,141.71 L822.06,142.94 L823.72,144.20 L825.34,145.50 L826.92,146.82 L828.47,148.18 L829.97,149.56 L831.43,150.96 L832.86,152.39 L834.25,153.85 L835.60,155.32 L836.91,156.82 L838.18,158.33 L839.42,159.85 L840.62,161.39 L841.78,162.94 L842.90,164.49 L843.99,166.05 L845.04,167.61 L846.06,169.17 L847.03,170.73 L847.98,172.28 L848.88,173.82 L849.75,175.34 L850.59,176.85 L851.39,178.34 L852.16,179.80 L852.89,181.24 L853.58,182.64 L854.25,184.01 L854.88,185.35 L855.47,186.64 L856.03,187.89 L856.56,189.09 L857.06,190.24 L857.53,191.34 L857.96,192.37 L858.36,193.36 L858.73,194.28 L859.08,195.13 L859.39,195.92 L859.67,196.65 L859.92,197.30 L860.14,197.89 L860.34,198.41 L860.51,198.86 L860.65,199.24 L860.76,199.56 L860.86,199.81 L860.92,199.99 L860.97,200.11 L860.99,200.18 L861.00,200.20 L825.10,294.50 L825.10,294.50 L825.09,294.48 L825.07,294.46 L825.04,294.42 L825.00,294.37 L824.96,294.30 L824.90,294.22 L824.83,294.13 L824.75,294.02 L824.66,293.90 L824.56,293.76 L824.44,293.60 L824.31,293.43 L824.18,293.24 L824.02,293.04 L823.86,292.82 L823.68,292.58 L823.49,292.33 L823.29,292.06 L823.07,291.77 L822.84,291.47 L822.60,291.15 L822.34,290.82 L822.07,290.46 L821.79,290.10 L821.49,289.71 L821.18,289.31 L820.85,288.90 L820.51,288.47 L820.16,288.02 L819.79,287.56 L819.40,287.08 L819.00,286.59 L818.59,286.08 L818.16,285.56 L817.71,285.02 L817.26,284.47 L816.78,283.91 L816.29,283.34 L815.79,282.75 L815.27,282.14 L814.73,281.53 L814.18,280.90 L813.62,280.27 L813.03,279.62 L812.44,278.95 L811.82,278.28 L811.19,277.60 L810.55,276.91 L809.89,276.21 L809.21,275.50 L808.52,274.78 L807.81,274.05 L807.08,273.31 L806.34,272.56 L805.58,271.81 L804.80,271.05 L804.01,270.29 L803.20,269.51 L802.38,268.73 L801.54,267.95 L800.68,267.16 L799.80,266.36 L798.91,265.56 L798.00,264.76 L797.08,263.95 L796.14,263.13 L795.18,262.32 L794.20,261.50"/>
</g>
<defs><clipPath id="plotclip"><rect x="25.7" y="28.4" width="893.30" height="460.80"/></clipPath></defs>
<g fill="#131c26" stroke="#131c26" stroke-width="0.22" font-weight="bold" font-size="13.5" text-anchor="middle">
<text x="103.75" y="272.00">NM4 25/200</text>
<text x="103.75" y="342.50">NM4 25/160</text>
<text x="99.75" y="396.30">NM4 25/12</text>
<text x="237.70" y="284.50">NM4 32/20</text>
<text x="229.00" y="342.50">NM4 32/16</text>
<text x="309.50" y="211.75">NM4 40/25</text>
<text x="309.50" y="268.00">NM4 40/20</text>
<text x="309.50" y="342.50">NM4 40/16</text>
<text x="421.90" y="222.50">NM4 50/25</text>
<text x="416.80" y="285.50">NM4 50/20</text>
<text x="412.50" y="342.50">NM4 50/16</text>
<text x="499.60" y="155.75">NM4 65/31</text>
<text x="511.50" y="222.50">NM4 65/25</text>
<text x="509.30" y="273.30">NM4</text>
<text x="509.30" y="287.60">65/20</text>
<text x="506.60" y="326.25">NM4</text>
<text x="506.60" y="340.00">65/16</text>
<text x="588.00" y="216.50">NM4</text>
<text x="588.00" y="230.30">80/25</text>
<text x="577.40" y="283.75">NM4</text>
<text x="577.40" y="297.50">80/20</text>
<text x="565.70" y="347.80">NM4</text>
<text x="565.70" y="362.00">80/16</text>
<text x="665.30" y="223.40">NM4</text>
<text x="665.30" y="237.90">100/250</text>
<text x="665.20" y="294.80">NM4</text>
<text x="665.20" y="309.30">100/20</text>
<text x="759.20" y="263.25">NM4</text>
<text x="759.20" y="277.20">125/250</text>
<text x="820.70" y="206.80">NMS4</text>
<text x="820.70" y="221.40">150/315</text>
<text x="756.90" y="165.70">NMS4</text>
<text x="756.90" y="179.50">125/315</text>
<text x="759.00" y="94.10">NMS4</text>
<text x="759.00" y="108.60">125/400</text>
<text x="821.80" y="111.00">NMS4</text>
<text x="821.80" y="125.50">150/400</text>
<text x="685.80" y="93.30">NMS4</text>
<text x="685.80" y="107.50">100/400</text>
<text x="673.60" y="172.60">NM(S)4</text>
<text x="673.60" y="187.40">100/315</text>
<text x="596.00" y="152.50">NM4</text>
<text x="596.00" y="166.75">80/315</text>
<text x="562.75" y="89.50">NMS4 80/400</text>
</g>
<g stroke="#1c2126" stroke-width="1.1" fill="none">
<line x1="28.63" y1="21.5" x2="28.63" y2="28.4"/>
<line x1="44.69" y1="21.5" x2="44.69" y2="28.4"/>
<line x1="106.52" y1="21.5" x2="106.52" y2="28.4"/>
<line x1="150.39" y1="21.5" x2="150.39" y2="28.4"/>
<line x1="184.42" y1="21.5" x2="184.42" y2="28.4"/>
<line x1="212.23" y1="21.5" x2="212.23" y2="28.4"/>
<line x1="235.73" y1="21.5" x2="235.73" y2="28.4"/>
<line x1="256.10" y1="21.5" x2="256.10" y2="28.4"/>
<line x1="274.06" y1="21.5" x2="274.06" y2="28.4"/>
<line x1="290.12" y1="21.5" x2="290.12" y2="28.4"/>
<line x1="317.93" y1="21.5" x2="317.93" y2="28.4"/>
<line x1="341.43" y1="21.5" x2="341.43" y2="28.4"/>
<line x1="361.80" y1="21.5" x2="361.80" y2="28.4"/>
<line x1="379.76" y1="21.5" x2="379.76" y2="28.4"/>
<line x1="395.82" y1="21.5" x2="395.82" y2="28.4"/>
<line x1="457.65" y1="21.5" x2="457.65" y2="28.4"/>
<line x1="501.52" y1="21.5" x2="501.52" y2="28.4"/>
<line x1="535.55" y1="21.5" x2="535.55" y2="28.4"/>
<line x1="563.36" y1="21.5" x2="563.36" y2="28.4"/>
<line x1="586.86" y1="21.5" x2="586.86" y2="28.4"/>
<line x1="607.23" y1="21.5" x2="607.23" y2="28.4"/>
<line x1="625.19" y1="21.5" x2="625.19" y2="28.4"/>
<line x1="641.25" y1="21.5" x2="641.25" y2="28.4"/>
<line x1="669.06" y1="21.5" x2="669.06" y2="28.4"/>
<line x1="692.56" y1="21.5" x2="692.56" y2="28.4"/>
<line x1="712.93" y1="21.5" x2="712.93" y2="28.4"/>
<line x1="730.89" y1="21.5" x2="730.89" y2="28.4"/>
<line x1="746.95" y1="21.5" x2="746.95" y2="28.4"/>
<line x1="808.79" y1="21.5" x2="808.79" y2="28.4"/>
<line x1="852.66" y1="21.5" x2="852.66" y2="28.4"/>
<line x1="886.68" y1="21.5" x2="886.68" y2="28.4"/>
<line x1="914.49" y1="21.5" x2="914.49" y2="28.4"/>
<line x1="919.0" y1="480.82" x2="924.60" y2="480.82"/>
<line x1="919.0" y1="463.51" x2="924.60" y2="463.51"/>
<line x1="919.0" y1="448.25" x2="924.60" y2="448.25"/>
<line x1="919.0" y1="434.59" x2="924.60" y2="434.59"/>
<line x1="919.0" y1="382.04" x2="924.60" y2="382.04"/>
<line x1="919.0" y1="344.75" x2="924.60" y2="344.75"/>
<line x1="919.0" y1="315.83" x2="924.60" y2="315.83"/>
<line x1="919.0" y1="292.20" x2="924.60" y2="292.20"/>
<line x1="919.0" y1="272.22" x2="924.60" y2="272.22"/>
<line x1="919.0" y1="254.92" x2="924.60" y2="254.92"/>
<line x1="919.0" y1="225.99" x2="924.60" y2="225.99"/>
<line x1="919.0" y1="202.36" x2="924.60" y2="202.36"/>
<line x1="919.0" y1="182.39" x2="924.60" y2="182.39"/>
<line x1="919.0" y1="165.08" x2="924.60" y2="165.08"/>
<line x1="919.0" y1="149.81" x2="924.60" y2="149.81"/>
<line x1="919.0" y1="136.16" x2="924.60" y2="136.16"/>
<line x1="919.0" y1="83.61" x2="924.60" y2="83.61"/>
<line x1="919.0" y1="46.32" x2="924.60" y2="46.32"/>
<line x1="53.00" y1="528.5" x2="53.00" y2="535"/>
<line x1="87.03" y1="528.5" x2="87.03" y2="535"/>
<line x1="114.83" y1="528.5" x2="114.83" y2="535"/>
<line x1="138.34" y1="528.5" x2="138.34" y2="535"/>
<line x1="158.70" y1="528.5" x2="158.70" y2="535"/>
<line x1="176.66" y1="528.5" x2="176.66" y2="535"/>
<line x1="192.73" y1="528.5" x2="192.73" y2="535"/>
<line x1="254.56" y1="528.5" x2="254.56" y2="535"/>
<line x1="298.43" y1="528.5" x2="298.43" y2="535"/>
<line x1="360.26" y1="528.5" x2="360.26" y2="535"/>
<line x1="404.13" y1="528.5" x2="404.13" y2="535"/>
<line x1="438.16" y1="528.5" x2="438.16" y2="535"/>
<line x1="465.96" y1="528.5" x2="465.96" y2="535"/>
<line x1="489.47" y1="528.5" x2="489.47" y2="535"/>
<line x1="509.83" y1="528.5" x2="509.83" y2="535"/>
<line x1="527.80" y1="528.5" x2="527.80" y2="535"/>
<line x1="543.86" y1="528.5" x2="543.86" y2="535"/>
<line x1="605.69" y1="528.5" x2="605.69" y2="535"/>
<line x1="649.56" y1="528.5" x2="649.56" y2="535"/>
<line x1="711.39" y1="528.5" x2="711.39" y2="535"/>
<line x1="755.26" y1="528.5" x2="755.26" y2="535"/>
<line x1="789.29" y1="528.5" x2="789.29" y2="535"/>
<line x1="817.10" y1="528.5" x2="817.10" y2="535"/>
<line x1="840.60" y1="528.5" x2="840.60" y2="535"/>
<line x1="860.96" y1="528.5" x2="860.96" y2="535"/>
<line x1="878.93" y1="528.5" x2="878.93" y2="535"/>
<line x1="894.99" y1="528.5" x2="894.99" y2="535"/>
</g>
<line x1="25.0" y1="534.9" x2="919.00" y2="534.9" stroke="#1c2126" stroke-width="1.7"/>
<g fill="#1d1d1f" font-size="14.2" letter-spacing="0.3">
<text x="20.9" y="32.75" text-anchor="end">70</text>
<text x="20.9" y="55.13" text-anchor="end">60</text>
<text x="20.9" y="76.96" text-anchor="end">50</text>
<text x="20.9" y="105.88" text-anchor="end">40</text>
<text x="20.9" y="143.17" text-anchor="end">30</text>
<text x="20.9" y="195.72" text-anchor="end">20</text>
<text x="20.9" y="284.55" text-anchor="end">10</text>
<text x="19.3" y="375.39" text-anchor="end">5</text>
<text x="19.3" y="404.31" text-anchor="end">4</text>
<text x="19.3" y="441.60" text-anchor="end">3</text>
<text x="19.3" y="493.15" text-anchor="end">2</text>
<text x="926.8" y="50.97">200</text>
<text x="926.8" y="140.81">100</text>
<text x="926.8" y="230.64">50</text>
<text x="926.8" y="259.57">40</text>
<text x="926.8" y="296.85">30</text>
<text x="926.8" y="349.40">20</text>
<text x="926.8" y="439.24">10</text>
<text x="926.8" y="485.47">7</text>
<text x="47.6" y="17.8" text-anchor="middle">10</text>
<text x="152.7" y="17.8" text-anchor="middle">20</text>
<text x="213.7" y="17.8" text-anchor="middle">30</text>
<text x="258" y="17.8" text-anchor="middle">40</text>
<text x="292" y="17.8" text-anchor="middle">50</text>
<text x="398.5" y="17.8" text-anchor="middle">100</text>
<text x="504.2" y="17.8" text-anchor="middle">200</text>
<text x="565.9" y="17.8" text-anchor="middle">300</text>
<text x="610" y="17.8" text-anchor="middle">400</text>
<text x="643.5" y="17.8" text-anchor="middle">500</text>
<text x="750.7" y="17.8" text-anchor="middle">1000</text>
<text x="856.2" y="17.8" text-anchor="middle">2000</text>
<text x="917.9" y="17.8" text-anchor="middle">3000</text>
<text x="65.3" y="17.8" textLength="72" lengthAdjust="spacing">U.S. g.p.m.</text>
<text x="26.3" y="504.8" text-anchor="middle">2</text>
<text x="165.4" y="504.8" text-anchor="middle">5</text>
<text x="272.5" y="504.8" text-anchor="middle">10</text>
<text x="378.5" y="504.8" text-anchor="middle">20</text>
<text x="439.8" y="504.8" text-anchor="middle">30</text>
<text x="483.7" y="504.8" text-anchor="middle">40</text>
<text x="517.7" y="504.8" text-anchor="middle">50</text>
<text x="624.7" y="504.8" text-anchor="middle">100</text>
<text x="730.2" y="504.8" text-anchor="middle">200</text>
<text x="791.9" y="504.8" text-anchor="middle">300</text>
<text x="836.2" y="504.8" text-anchor="middle">400</text>
<text x="869.7" y="504.8" text-anchor="middle">500</text>
<text x="921.2" y="504.8" text-anchor="middle">700</text>
<text x="54.5" y="524.4" text-anchor="middle">40</text>
<text x="89.2" y="524.4" text-anchor="middle">50</text>
<text x="196.9" y="524.4" text-anchor="middle">100</text>
<text x="257.7" y="524.4" text-anchor="middle">150</text>
<text x="301.2" y="524.4" text-anchor="middle">200</text>
<text x="362.9" y="524.4" text-anchor="middle">300</text>
<text x="406.9" y="524.4" text-anchor="middle">400</text>
<text x="440.9" y="524.4" text-anchor="middle">500</text>
<text x="545.7" y="524.4" text-anchor="middle">1000</text>
<text x="789.7" y="524.4" text-anchor="middle">5000</text>
<text x="894.2" y="524.4" text-anchor="middle">10000</text>
</g>
<g fill="#1d1d1f" font-size="14.1">
<text x="126.5" y="506.6">m³/h</text>
<text x="126.5" y="522.6">l/min</text>
<text x="4.6" y="247.6">m</text>
<text x="933" y="109">ft</text>
</g>
<g fill="#1d1d1f" font-weight="bold">
<text x="4.4" y="230.2" font-size="17.6">H</text>
<text x="932.8" y="90.3" font-size="17.8">H</text>
<text x="107.6" y="516.3" font-size="18.6">Q</text>
</g>
<clipPath id="tinyclip"><rect x="880" y="539" width="45" height="4.3"/></clipPath>
<text x="884.2" y="546.7" font-size="8.5" fill="#3a3a3a" clip-path="url(#tinyclip)" textLength="34" lengthAdjust="spacing">72.840.C</text>
</svg></body></html>
